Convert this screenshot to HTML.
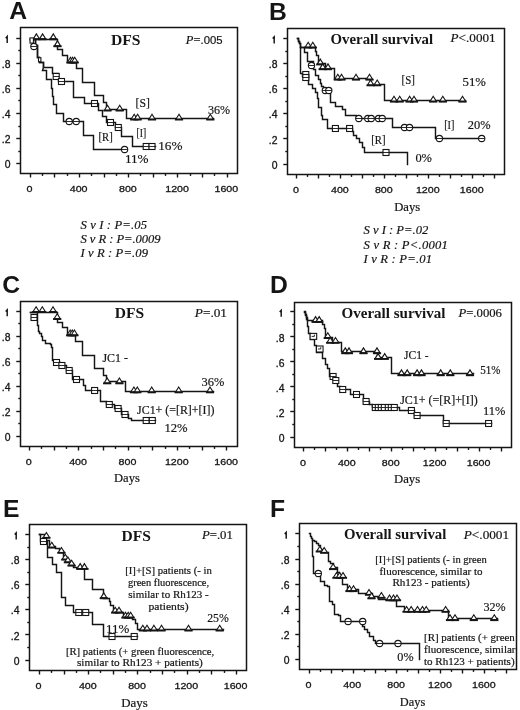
<!DOCTYPE html>
<html><head><meta charset="utf-8"><title>Figure</title>
<style>html,body{margin:0;padding:0;background:#fff;overflow:hidden;}svg{display:block;will-change:transform;}</style>
</head><body>
<svg width="520" height="710" viewBox="0 0 520 710">
<rect width="520" height="710" fill="#fff"/>
<text x="9.2" y="19.2" font-family='"Liberation Sans", sans-serif' font-size="24.7" font-weight="bold" fill="#151515" >A</text>
<text x="269" y="19.6" font-family='"Liberation Sans", sans-serif' font-size="24.7" font-weight="bold" fill="#151515" >B</text>
<text x="2.3" y="292.5" font-family='"Liberation Sans", sans-serif' font-size="24.7" font-weight="bold" fill="#151515" >C</text>
<text x="270" y="293.1" font-family='"Liberation Sans", sans-serif' font-size="24.7" font-weight="bold" fill="#151515" >D</text>
<text x="3.1" y="517.2" font-family='"Liberation Sans", sans-serif' font-size="24.7" font-weight="bold" fill="#151515" >E</text>
<text x="270.1" y="517.2" font-family='"Liberation Sans", sans-serif' font-size="24.7" font-weight="bold" fill="#151515" >F</text>
<rect x="20.5" y="27.5" width="217" height="146" fill="none" stroke="#151515" stroke-width="1.5"/>
<path d="M16.3,38.5 L20.5,38.5" stroke="#151515" stroke-width="1.4"/>
<path d="M18.3,50.5 L20.5,50.5" stroke="#151515" stroke-width="1.4"/>
<path d="M16.3,63.5 L20.5,63.5" stroke="#151515" stroke-width="1.4"/>
<path d="M18.3,75.5 L20.5,75.5" stroke="#151515" stroke-width="1.4"/>
<path d="M16.3,88.5 L20.5,88.5" stroke="#151515" stroke-width="1.4"/>
<path d="M18.3,100.5 L20.5,100.5" stroke="#151515" stroke-width="1.4"/>
<path d="M16.3,113.5 L20.5,113.5" stroke="#151515" stroke-width="1.4"/>
<path d="M18.3,126.5 L20.5,126.5" stroke="#151515" stroke-width="1.4"/>
<path d="M16.3,138.5 L20.5,138.5" stroke="#151515" stroke-width="1.4"/>
<path d="M18.3,151.5 L20.5,151.5" stroke="#151515" stroke-width="1.4"/>
<path d="M16.3,163.5 L20.5,163.5" stroke="#151515" stroke-width="1.4"/>
<path d="M5.7,38.2 L7.2,36.5 L7.2,43" fill="none" stroke="#151515" stroke-width="1.45"/>
<text x="10.5" y="67.84" font-family='"Liberation Sans", sans-serif' font-size="10.4" text-anchor="end" stroke="#151515" stroke-width="0.3" fill="#151515" >.8</text>
<text x="10.5" y="92.98" font-family='"Liberation Sans", sans-serif' font-size="10.4" text-anchor="end" stroke="#151515" stroke-width="0.3" fill="#151515" >.6</text>
<text x="10.5" y="118.12" font-family='"Liberation Sans", sans-serif' font-size="10.4" text-anchor="end" stroke="#151515" stroke-width="0.3" fill="#151515" >.4</text>
<text x="10.5" y="143.26" font-family='"Liberation Sans", sans-serif' font-size="10.4" text-anchor="end" stroke="#151515" stroke-width="0.3" fill="#151515" >.2</text>
<text x="10.5" y="168.4" font-family='"Liberation Sans", sans-serif' font-size="10.4" text-anchor="end" stroke="#151515" stroke-width="0.3" fill="#151515" >0</text>
<path d="M30.5,173.5 L30.5,177.5" stroke="#151515" stroke-width="1.4"/>
<path d="M42.5,173.5 L42.5,175.9" stroke="#151515" stroke-width="1.4"/>
<path d="M54.5,173.5 L54.5,177.5" stroke="#151515" stroke-width="1.4"/>
<path d="M67.5,173.5 L67.5,175.9" stroke="#151515" stroke-width="1.4"/>
<path d="M79.5,173.5 L79.5,177.5" stroke="#151515" stroke-width="1.4"/>
<path d="M91.5,173.5 L91.5,175.9" stroke="#151515" stroke-width="1.4"/>
<path d="M104.5,173.5 L104.5,177.5" stroke="#151515" stroke-width="1.4"/>
<path d="M116.5,173.5 L116.5,175.9" stroke="#151515" stroke-width="1.4"/>
<path d="M128.5,173.5 L128.5,177.5" stroke="#151515" stroke-width="1.4"/>
<path d="M140.5,173.5 L140.5,175.9" stroke="#151515" stroke-width="1.4"/>
<path d="M153.5,173.5 L153.5,177.5" stroke="#151515" stroke-width="1.4"/>
<path d="M165.5,173.5 L165.5,175.9" stroke="#151515" stroke-width="1.4"/>
<path d="M177.5,173.5 L177.5,177.5" stroke="#151515" stroke-width="1.4"/>
<path d="M190.5,173.5 L190.5,175.9" stroke="#151515" stroke-width="1.4"/>
<path d="M202.5,173.5 L202.5,177.5" stroke="#151515" stroke-width="1.4"/>
<path d="M214.5,173.5 L214.5,175.9" stroke="#151515" stroke-width="1.4"/>
<path d="M227.5,173.5 L227.5,177.5" stroke="#151515" stroke-width="1.4"/>
<text x="29.4" y="191.7" font-family='"Liberation Sans", sans-serif' font-size="9.9" text-anchor="middle" textLength="6" lengthAdjust="spacingAndGlyphs" stroke="#151515" stroke-width="0.3" fill="#151515" >0</text>
<text x="78.64" y="191.7" font-family='"Liberation Sans", sans-serif' font-size="9.9" text-anchor="middle" textLength="17.8" lengthAdjust="spacingAndGlyphs" stroke="#151515" stroke-width="0.3" fill="#151515" >400</text>
<text x="127.88" y="191.7" font-family='"Liberation Sans", sans-serif' font-size="9.9" text-anchor="middle" textLength="17.8" lengthAdjust="spacingAndGlyphs" stroke="#151515" stroke-width="0.3" fill="#151515" >800</text>
<text x="177.12" y="191.7" font-family='"Liberation Sans", sans-serif' font-size="9.9" text-anchor="middle" textLength="23.7" lengthAdjust="spacingAndGlyphs" stroke="#151515" stroke-width="0.3" fill="#151515" >1200</text>
<text x="226.36" y="191.7" font-family='"Liberation Sans", sans-serif' font-size="9.9" text-anchor="middle" textLength="23.7" lengthAdjust="spacingAndGlyphs" stroke="#151515" stroke-width="0.3" fill="#151515" >1600</text>
<rect x="287.5" y="28.5" width="217" height="146" fill="none" stroke="#151515" stroke-width="1.5"/>
<path d="M283.3,38.5 L287.5,38.5" stroke="#151515" stroke-width="1.4"/>
<path d="M285.3,51.5 L287.5,51.5" stroke="#151515" stroke-width="1.4"/>
<path d="M283.3,63.5 L287.5,63.5" stroke="#151515" stroke-width="1.4"/>
<path d="M285.3,76.5 L287.5,76.5" stroke="#151515" stroke-width="1.4"/>
<path d="M283.3,88.5 L287.5,88.5" stroke="#151515" stroke-width="1.4"/>
<path d="M285.3,101.5 L287.5,101.5" stroke="#151515" stroke-width="1.4"/>
<path d="M283.3,113.5 L287.5,113.5" stroke="#151515" stroke-width="1.4"/>
<path d="M285.3,126.5 L287.5,126.5" stroke="#151515" stroke-width="1.4"/>
<path d="M283.3,138.5 L287.5,138.5" stroke="#151515" stroke-width="1.4"/>
<path d="M285.3,151.5 L287.5,151.5" stroke="#151515" stroke-width="1.4"/>
<path d="M283.3,164.5 L287.5,164.5" stroke="#151515" stroke-width="1.4"/>
<path d="M272.7,38.6 L274.2,36.9 L274.2,43.4" fill="none" stroke="#151515" stroke-width="1.45"/>
<text x="277.5" y="68.22" font-family='"Liberation Sans", sans-serif' font-size="10.4" text-anchor="end" stroke="#151515" stroke-width="0.3" fill="#151515" >.8</text>
<text x="277.5" y="93.34" font-family='"Liberation Sans", sans-serif' font-size="10.4" text-anchor="end" stroke="#151515" stroke-width="0.3" fill="#151515" >.6</text>
<text x="277.5" y="118.46" font-family='"Liberation Sans", sans-serif' font-size="10.4" text-anchor="end" stroke="#151515" stroke-width="0.3" fill="#151515" >.4</text>
<text x="277.5" y="143.58" font-family='"Liberation Sans", sans-serif' font-size="10.4" text-anchor="end" stroke="#151515" stroke-width="0.3" fill="#151515" >.2</text>
<text x="277.5" y="168.7" font-family='"Liberation Sans", sans-serif' font-size="10.4" text-anchor="end" stroke="#151515" stroke-width="0.3" fill="#151515" >0</text>
<path d="M296.5,174.5 L296.5,178.5" stroke="#151515" stroke-width="1.4"/>
<path d="M307.5,174.5 L307.5,176.9" stroke="#151515" stroke-width="1.4"/>
<path d="M318.5,174.5 L318.5,178.5" stroke="#151515" stroke-width="1.4"/>
<path d="M329.5,174.5 L329.5,176.9" stroke="#151515" stroke-width="1.4"/>
<path d="M340.5,174.5 L340.5,178.5" stroke="#151515" stroke-width="1.4"/>
<path d="M351.5,174.5 L351.5,176.9" stroke="#151515" stroke-width="1.4"/>
<path d="M362.5,174.5 L362.5,178.5" stroke="#151515" stroke-width="1.4"/>
<path d="M373.5,174.5 L373.5,176.9" stroke="#151515" stroke-width="1.4"/>
<path d="M384.5,174.5 L384.5,178.5" stroke="#151515" stroke-width="1.4"/>
<path d="M395.5,174.5 L395.5,176.9" stroke="#151515" stroke-width="1.4"/>
<path d="M406.5,174.5 L406.5,178.5" stroke="#151515" stroke-width="1.4"/>
<path d="M417.5,174.5 L417.5,176.9" stroke="#151515" stroke-width="1.4"/>
<path d="M428.5,174.5 L428.5,178.5" stroke="#151515" stroke-width="1.4"/>
<path d="M439.5,174.5 L439.5,176.9" stroke="#151515" stroke-width="1.4"/>
<path d="M450.5,174.5 L450.5,178.5" stroke="#151515" stroke-width="1.4"/>
<path d="M461.5,174.5 L461.5,176.9" stroke="#151515" stroke-width="1.4"/>
<path d="M472.5,174.5 L472.5,178.5" stroke="#151515" stroke-width="1.4"/>
<path d="M483.5,174.5 L483.5,176.9" stroke="#151515" stroke-width="1.4"/>
<path d="M494.5,174.5 L494.5,178.5" stroke="#151515" stroke-width="1.4"/>
<text x="295.9" y="192.7" font-family='"Liberation Sans", sans-serif' font-size="9.9" text-anchor="middle" textLength="6" lengthAdjust="spacingAndGlyphs" stroke="#151515" stroke-width="0.3" fill="#151515" >0</text>
<text x="339.86" y="192.7" font-family='"Liberation Sans", sans-serif' font-size="9.9" text-anchor="middle" textLength="17.8" lengthAdjust="spacingAndGlyphs" stroke="#151515" stroke-width="0.3" fill="#151515" >400</text>
<text x="383.82" y="192.7" font-family='"Liberation Sans", sans-serif' font-size="9.9" text-anchor="middle" textLength="17.8" lengthAdjust="spacingAndGlyphs" stroke="#151515" stroke-width="0.3" fill="#151515" >800</text>
<text x="427.78" y="192.7" font-family='"Liberation Sans", sans-serif' font-size="9.9" text-anchor="middle" textLength="23.7" lengthAdjust="spacingAndGlyphs" stroke="#151515" stroke-width="0.3" fill="#151515" >1200</text>
<text x="471.74" y="192.7" font-family='"Liberation Sans", sans-serif' font-size="9.9" text-anchor="middle" textLength="23.7" lengthAdjust="spacingAndGlyphs" stroke="#151515" stroke-width="0.3" fill="#151515" >1600</text>
<rect x="20.5" y="301.5" width="217" height="145" fill="none" stroke="#151515" stroke-width="1.5"/>
<path d="M16.3,311.5 L20.5,311.5" stroke="#151515" stroke-width="1.4"/>
<path d="M18.3,323.5 L20.5,323.5" stroke="#151515" stroke-width="1.4"/>
<path d="M16.3,336.5 L20.5,336.5" stroke="#151515" stroke-width="1.4"/>
<path d="M18.3,348.5 L20.5,348.5" stroke="#151515" stroke-width="1.4"/>
<path d="M16.3,361.5 L20.5,361.5" stroke="#151515" stroke-width="1.4"/>
<path d="M18.3,373.5 L20.5,373.5" stroke="#151515" stroke-width="1.4"/>
<path d="M16.3,386.5 L20.5,386.5" stroke="#151515" stroke-width="1.4"/>
<path d="M18.3,398.5 L20.5,398.5" stroke="#151515" stroke-width="1.4"/>
<path d="M16.3,411.5 L20.5,411.5" stroke="#151515" stroke-width="1.4"/>
<path d="M18.3,423.5 L20.5,423.5" stroke="#151515" stroke-width="1.4"/>
<path d="M16.3,436.5 L20.5,436.5" stroke="#151515" stroke-width="1.4"/>
<path d="M5.7,311.5 L7.2,309.8 L7.2,316.3" fill="none" stroke="#151515" stroke-width="1.45"/>
<text x="10.5" y="341.02" font-family='"Liberation Sans", sans-serif' font-size="10.4" text-anchor="end" stroke="#151515" stroke-width="0.3" fill="#151515" >.8</text>
<text x="10.5" y="366.04" font-family='"Liberation Sans", sans-serif' font-size="10.4" text-anchor="end" stroke="#151515" stroke-width="0.3" fill="#151515" >.6</text>
<text x="10.5" y="391.06" font-family='"Liberation Sans", sans-serif' font-size="10.4" text-anchor="end" stroke="#151515" stroke-width="0.3" fill="#151515" >.4</text>
<text x="10.5" y="416.08" font-family='"Liberation Sans", sans-serif' font-size="10.4" text-anchor="end" stroke="#151515" stroke-width="0.3" fill="#151515" >.2</text>
<text x="10.5" y="441.1" font-family='"Liberation Sans", sans-serif' font-size="10.4" text-anchor="end" stroke="#151515" stroke-width="0.3" fill="#151515" >0</text>
<path d="M29.5,446.5 L29.5,450.5" stroke="#151515" stroke-width="1.4"/>
<path d="M41.5,446.5 L41.5,448.9" stroke="#151515" stroke-width="1.4"/>
<path d="M54.5,446.5 L54.5,450.5" stroke="#151515" stroke-width="1.4"/>
<path d="M66.5,446.5 L66.5,448.9" stroke="#151515" stroke-width="1.4"/>
<path d="M78.5,446.5 L78.5,450.5" stroke="#151515" stroke-width="1.4"/>
<path d="M91.5,446.5 L91.5,448.9" stroke="#151515" stroke-width="1.4"/>
<path d="M103.5,446.5 L103.5,450.5" stroke="#151515" stroke-width="1.4"/>
<path d="M115.5,446.5 L115.5,448.9" stroke="#151515" stroke-width="1.4"/>
<path d="M128.5,446.5 L128.5,450.5" stroke="#151515" stroke-width="1.4"/>
<path d="M140.5,446.5 L140.5,448.9" stroke="#151515" stroke-width="1.4"/>
<path d="M152.5,446.5 L152.5,450.5" stroke="#151515" stroke-width="1.4"/>
<path d="M165.5,446.5 L165.5,448.9" stroke="#151515" stroke-width="1.4"/>
<path d="M177.5,446.5 L177.5,450.5" stroke="#151515" stroke-width="1.4"/>
<path d="M189.5,446.5 L189.5,448.9" stroke="#151515" stroke-width="1.4"/>
<path d="M202.5,446.5 L202.5,450.5" stroke="#151515" stroke-width="1.4"/>
<path d="M214.5,446.5 L214.5,448.9" stroke="#151515" stroke-width="1.4"/>
<path d="M226.5,446.5 L226.5,450.5" stroke="#151515" stroke-width="1.4"/>
<text x="28.7" y="464.7" font-family='"Liberation Sans", sans-serif' font-size="9.9" text-anchor="middle" textLength="6" lengthAdjust="spacingAndGlyphs" stroke="#151515" stroke-width="0.3" fill="#151515" >0</text>
<text x="78.06" y="464.7" font-family='"Liberation Sans", sans-serif' font-size="9.9" text-anchor="middle" textLength="17.8" lengthAdjust="spacingAndGlyphs" stroke="#151515" stroke-width="0.3" fill="#151515" >400</text>
<text x="127.42" y="464.7" font-family='"Liberation Sans", sans-serif' font-size="9.9" text-anchor="middle" textLength="17.8" lengthAdjust="spacingAndGlyphs" stroke="#151515" stroke-width="0.3" fill="#151515" >800</text>
<text x="176.78" y="464.7" font-family='"Liberation Sans", sans-serif' font-size="9.9" text-anchor="middle" textLength="23.7" lengthAdjust="spacingAndGlyphs" stroke="#151515" stroke-width="0.3" fill="#151515" >1200</text>
<text x="226.14" y="464.7" font-family='"Liberation Sans", sans-serif' font-size="9.9" text-anchor="middle" textLength="23.7" lengthAdjust="spacingAndGlyphs" stroke="#151515" stroke-width="0.3" fill="#151515" >1600</text>
<rect x="294.5" y="302.5" width="217" height="145" fill="none" stroke="#151515" stroke-width="1.5"/>
<path d="M290.3,311.5 L294.5,311.5" stroke="#151515" stroke-width="1.4"/>
<path d="M292.3,324.5 L294.5,324.5" stroke="#151515" stroke-width="1.4"/>
<path d="M290.3,336.5 L294.5,336.5" stroke="#151515" stroke-width="1.4"/>
<path d="M292.3,349.5 L294.5,349.5" stroke="#151515" stroke-width="1.4"/>
<path d="M290.3,361.5 L294.5,361.5" stroke="#151515" stroke-width="1.4"/>
<path d="M292.3,374.5 L294.5,374.5" stroke="#151515" stroke-width="1.4"/>
<path d="M290.3,386.5 L294.5,386.5" stroke="#151515" stroke-width="1.4"/>
<path d="M292.3,399.5 L294.5,399.5" stroke="#151515" stroke-width="1.4"/>
<path d="M290.3,411.5 L294.5,411.5" stroke="#151515" stroke-width="1.4"/>
<path d="M292.3,424.5 L294.5,424.5" stroke="#151515" stroke-width="1.4"/>
<path d="M290.3,437.5 L294.5,437.5" stroke="#151515" stroke-width="1.4"/>
<path d="M279.7,312 L281.2,310.3 L281.2,316.8" fill="none" stroke="#151515" stroke-width="1.45"/>
<text x="284.5" y="341.52" font-family='"Liberation Sans", sans-serif' font-size="10.4" text-anchor="end" stroke="#151515" stroke-width="0.3" fill="#151515" >.8</text>
<text x="284.5" y="366.54" font-family='"Liberation Sans", sans-serif' font-size="10.4" text-anchor="end" stroke="#151515" stroke-width="0.3" fill="#151515" >.6</text>
<text x="284.5" y="391.56" font-family='"Liberation Sans", sans-serif' font-size="10.4" text-anchor="end" stroke="#151515" stroke-width="0.3" fill="#151515" >.4</text>
<text x="284.5" y="416.58" font-family='"Liberation Sans", sans-serif' font-size="10.4" text-anchor="end" stroke="#151515" stroke-width="0.3" fill="#151515" >.2</text>
<text x="284.5" y="441.6" font-family='"Liberation Sans", sans-serif' font-size="10.4" text-anchor="end" stroke="#151515" stroke-width="0.3" fill="#151515" >0</text>
<path d="M303.5,447.5 L303.5,451.5" stroke="#151515" stroke-width="1.4"/>
<path d="M314.5,447.5 L314.5,449.9" stroke="#151515" stroke-width="1.4"/>
<path d="M325.5,447.5 L325.5,451.5" stroke="#151515" stroke-width="1.4"/>
<path d="M336.5,447.5 L336.5,449.9" stroke="#151515" stroke-width="1.4"/>
<path d="M347.5,447.5 L347.5,451.5" stroke="#151515" stroke-width="1.4"/>
<path d="M358.5,447.5 L358.5,449.9" stroke="#151515" stroke-width="1.4"/>
<path d="M369.5,447.5 L369.5,451.5" stroke="#151515" stroke-width="1.4"/>
<path d="M380.5,447.5 L380.5,449.9" stroke="#151515" stroke-width="1.4"/>
<path d="M391.5,447.5 L391.5,451.5" stroke="#151515" stroke-width="1.4"/>
<path d="M402.5,447.5 L402.5,449.9" stroke="#151515" stroke-width="1.4"/>
<path d="M413.5,447.5 L413.5,451.5" stroke="#151515" stroke-width="1.4"/>
<path d="M424.5,447.5 L424.5,449.9" stroke="#151515" stroke-width="1.4"/>
<path d="M435.5,447.5 L435.5,451.5" stroke="#151515" stroke-width="1.4"/>
<path d="M446.5,447.5 L446.5,449.9" stroke="#151515" stroke-width="1.4"/>
<path d="M457.5,447.5 L457.5,451.5" stroke="#151515" stroke-width="1.4"/>
<path d="M468.5,447.5 L468.5,449.9" stroke="#151515" stroke-width="1.4"/>
<path d="M479.5,447.5 L479.5,451.5" stroke="#151515" stroke-width="1.4"/>
<path d="M490.5,447.5 L490.5,449.9" stroke="#151515" stroke-width="1.4"/>
<path d="M501.5,447.5 L501.5,451.5" stroke="#151515" stroke-width="1.4"/>
<text x="302.9" y="465.7" font-family='"Liberation Sans", sans-serif' font-size="9.9" text-anchor="middle" textLength="6" lengthAdjust="spacingAndGlyphs" stroke="#151515" stroke-width="0.3" fill="#151515" >0</text>
<text x="346.82" y="465.7" font-family='"Liberation Sans", sans-serif' font-size="9.9" text-anchor="middle" textLength="17.8" lengthAdjust="spacingAndGlyphs" stroke="#151515" stroke-width="0.3" fill="#151515" >400</text>
<text x="390.74" y="465.7" font-family='"Liberation Sans", sans-serif' font-size="9.9" text-anchor="middle" textLength="17.8" lengthAdjust="spacingAndGlyphs" stroke="#151515" stroke-width="0.3" fill="#151515" >800</text>
<text x="434.66" y="465.7" font-family='"Liberation Sans", sans-serif' font-size="9.9" text-anchor="middle" textLength="23.7" lengthAdjust="spacingAndGlyphs" stroke="#151515" stroke-width="0.3" fill="#151515" >1200</text>
<text x="478.58" y="465.7" font-family='"Liberation Sans", sans-serif' font-size="9.9" text-anchor="middle" textLength="23.7" lengthAdjust="spacingAndGlyphs" stroke="#151515" stroke-width="0.3" fill="#151515" >1600</text>
<rect x="29.5" y="524.5" width="217" height="146" fill="none" stroke="#151515" stroke-width="1.5"/>
<path d="M25.3,534.5 L29.5,534.5" stroke="#151515" stroke-width="1.4"/>
<path d="M27.3,547.5 L29.5,547.5" stroke="#151515" stroke-width="1.4"/>
<path d="M25.3,559.5 L29.5,559.5" stroke="#151515" stroke-width="1.4"/>
<path d="M27.3,572.5 L29.5,572.5" stroke="#151515" stroke-width="1.4"/>
<path d="M25.3,584.5 L29.5,584.5" stroke="#151515" stroke-width="1.4"/>
<path d="M27.3,597.5 L29.5,597.5" stroke="#151515" stroke-width="1.4"/>
<path d="M25.3,609.5 L29.5,609.5" stroke="#151515" stroke-width="1.4"/>
<path d="M27.3,622.5 L29.5,622.5" stroke="#151515" stroke-width="1.4"/>
<path d="M25.3,634.5 L29.5,634.5" stroke="#151515" stroke-width="1.4"/>
<path d="M27.3,647.5 L29.5,647.5" stroke="#151515" stroke-width="1.4"/>
<path d="M25.3,660.5 L29.5,660.5" stroke="#151515" stroke-width="1.4"/>
<path d="M14.7,534.6 L16.2,532.9 L16.2,539.4" fill="none" stroke="#151515" stroke-width="1.45"/>
<text x="19.5" y="564.2" font-family='"Liberation Sans", sans-serif' font-size="10.4" text-anchor="end" stroke="#151515" stroke-width="0.3" fill="#151515" >.8</text>
<text x="19.5" y="589.3" font-family='"Liberation Sans", sans-serif' font-size="10.4" text-anchor="end" stroke="#151515" stroke-width="0.3" fill="#151515" >.6</text>
<text x="19.5" y="614.4" font-family='"Liberation Sans", sans-serif' font-size="10.4" text-anchor="end" stroke="#151515" stroke-width="0.3" fill="#151515" >.4</text>
<text x="19.5" y="639.5" font-family='"Liberation Sans", sans-serif' font-size="10.4" text-anchor="end" stroke="#151515" stroke-width="0.3" fill="#151515" >.2</text>
<text x="19.5" y="664.6" font-family='"Liberation Sans", sans-serif' font-size="10.4" text-anchor="end" stroke="#151515" stroke-width="0.3" fill="#151515" >0</text>
<path d="M39.5,670.5 L39.5,674.5" stroke="#151515" stroke-width="1.4"/>
<path d="M51.5,670.5 L51.5,672.9" stroke="#151515" stroke-width="1.4"/>
<path d="M64.5,670.5 L64.5,674.5" stroke="#151515" stroke-width="1.4"/>
<path d="M76.5,670.5 L76.5,672.9" stroke="#151515" stroke-width="1.4"/>
<path d="M88.5,670.5 L88.5,674.5" stroke="#151515" stroke-width="1.4"/>
<path d="M100.5,670.5 L100.5,672.9" stroke="#151515" stroke-width="1.4"/>
<path d="M113.5,670.5 L113.5,674.5" stroke="#151515" stroke-width="1.4"/>
<path d="M125.5,670.5 L125.5,672.9" stroke="#151515" stroke-width="1.4"/>
<path d="M137.5,670.5 L137.5,674.5" stroke="#151515" stroke-width="1.4"/>
<path d="M150.5,670.5 L150.5,672.9" stroke="#151515" stroke-width="1.4"/>
<path d="M162.5,670.5 L162.5,674.5" stroke="#151515" stroke-width="1.4"/>
<path d="M174.5,670.5 L174.5,672.9" stroke="#151515" stroke-width="1.4"/>
<path d="M187.5,670.5 L187.5,674.5" stroke="#151515" stroke-width="1.4"/>
<path d="M199.5,670.5 L199.5,672.9" stroke="#151515" stroke-width="1.4"/>
<path d="M211.5,670.5 L211.5,674.5" stroke="#151515" stroke-width="1.4"/>
<path d="M224.5,670.5 L224.5,672.9" stroke="#151515" stroke-width="1.4"/>
<path d="M236.5,670.5 L236.5,674.5" stroke="#151515" stroke-width="1.4"/>
<text x="38.6" y="688.7" font-family='"Liberation Sans", sans-serif' font-size="9.9" text-anchor="middle" textLength="6" lengthAdjust="spacingAndGlyphs" stroke="#151515" stroke-width="0.3" fill="#151515" >0</text>
<text x="87.84" y="688.7" font-family='"Liberation Sans", sans-serif' font-size="9.9" text-anchor="middle" textLength="17.8" lengthAdjust="spacingAndGlyphs" stroke="#151515" stroke-width="0.3" fill="#151515" >400</text>
<text x="137.08" y="688.7" font-family='"Liberation Sans", sans-serif' font-size="9.9" text-anchor="middle" textLength="17.8" lengthAdjust="spacingAndGlyphs" stroke="#151515" stroke-width="0.3" fill="#151515" >800</text>
<text x="186.32" y="688.7" font-family='"Liberation Sans", sans-serif' font-size="9.9" text-anchor="middle" textLength="23.7" lengthAdjust="spacingAndGlyphs" stroke="#151515" stroke-width="0.3" fill="#151515" >1200</text>
<text x="235.56" y="688.7" font-family='"Liberation Sans", sans-serif' font-size="9.9" text-anchor="middle" textLength="23.7" lengthAdjust="spacingAndGlyphs" stroke="#151515" stroke-width="0.3" fill="#151515" >1600</text>
<rect x="299.5" y="523.5" width="217" height="146" fill="none" stroke="#151515" stroke-width="1.5"/>
<path d="M295.3,533.5 L299.5,533.5" stroke="#151515" stroke-width="1.4"/>
<path d="M297.3,546.5 L299.5,546.5" stroke="#151515" stroke-width="1.4"/>
<path d="M295.3,559.5 L299.5,559.5" stroke="#151515" stroke-width="1.4"/>
<path d="M297.3,571.5 L299.5,571.5" stroke="#151515" stroke-width="1.4"/>
<path d="M295.3,584.5 L299.5,584.5" stroke="#151515" stroke-width="1.4"/>
<path d="M297.3,596.5 L299.5,596.5" stroke="#151515" stroke-width="1.4"/>
<path d="M295.3,609.5 L299.5,609.5" stroke="#151515" stroke-width="1.4"/>
<path d="M297.3,621.5 L299.5,621.5" stroke="#151515" stroke-width="1.4"/>
<path d="M295.3,634.5 L299.5,634.5" stroke="#151515" stroke-width="1.4"/>
<path d="M297.3,646.5 L299.5,646.5" stroke="#151515" stroke-width="1.4"/>
<path d="M295.3,659.5 L299.5,659.5" stroke="#151515" stroke-width="1.4"/>
<path d="M284.7,534 L286.2,532.3 L286.2,538.8" fill="none" stroke="#151515" stroke-width="1.45"/>
<text x="289.5" y="563.62" font-family='"Liberation Sans", sans-serif' font-size="10.4" text-anchor="end" stroke="#151515" stroke-width="0.3" fill="#151515" >.8</text>
<text x="289.5" y="588.74" font-family='"Liberation Sans", sans-serif' font-size="10.4" text-anchor="end" stroke="#151515" stroke-width="0.3" fill="#151515" >.6</text>
<text x="289.5" y="613.86" font-family='"Liberation Sans", sans-serif' font-size="10.4" text-anchor="end" stroke="#151515" stroke-width="0.3" fill="#151515" >.4</text>
<text x="289.5" y="638.98" font-family='"Liberation Sans", sans-serif' font-size="10.4" text-anchor="end" stroke="#151515" stroke-width="0.3" fill="#151515" >.2</text>
<text x="289.5" y="664.1" font-family='"Liberation Sans", sans-serif' font-size="10.4" text-anchor="end" stroke="#151515" stroke-width="0.3" fill="#151515" >0</text>
<path d="M309.5,669.5 L309.5,673.5" stroke="#151515" stroke-width="1.4"/>
<path d="M320.5,669.5 L320.5,671.9" stroke="#151515" stroke-width="1.4"/>
<path d="M331.5,669.5 L331.5,673.5" stroke="#151515" stroke-width="1.4"/>
<path d="M342.5,669.5 L342.5,671.9" stroke="#151515" stroke-width="1.4"/>
<path d="M353.5,669.5 L353.5,673.5" stroke="#151515" stroke-width="1.4"/>
<path d="M364.5,669.5 L364.5,671.9" stroke="#151515" stroke-width="1.4"/>
<path d="M375.5,669.5 L375.5,673.5" stroke="#151515" stroke-width="1.4"/>
<path d="M385.5,669.5 L385.5,671.9" stroke="#151515" stroke-width="1.4"/>
<path d="M396.5,669.5 L396.5,673.5" stroke="#151515" stroke-width="1.4"/>
<path d="M407.5,669.5 L407.5,671.9" stroke="#151515" stroke-width="1.4"/>
<path d="M418.5,669.5 L418.5,673.5" stroke="#151515" stroke-width="1.4"/>
<path d="M429.5,669.5 L429.5,671.9" stroke="#151515" stroke-width="1.4"/>
<path d="M440.5,669.5 L440.5,673.5" stroke="#151515" stroke-width="1.4"/>
<path d="M451.5,669.5 L451.5,671.9" stroke="#151515" stroke-width="1.4"/>
<path d="M462.5,669.5 L462.5,673.5" stroke="#151515" stroke-width="1.4"/>
<path d="M473.5,669.5 L473.5,671.9" stroke="#151515" stroke-width="1.4"/>
<path d="M484.5,669.5 L484.5,673.5" stroke="#151515" stroke-width="1.4"/>
<path d="M495.5,669.5 L495.5,671.9" stroke="#151515" stroke-width="1.4"/>
<path d="M506.5,669.5 L506.5,673.5" stroke="#151515" stroke-width="1.4"/>
<text x="308.45" y="687.7" font-family='"Liberation Sans", sans-serif' font-size="9.9" text-anchor="middle" textLength="6" lengthAdjust="spacingAndGlyphs" stroke="#151515" stroke-width="0.3" fill="#151515" >0</text>
<text x="352.29" y="687.7" font-family='"Liberation Sans", sans-serif' font-size="9.9" text-anchor="middle" textLength="17.8" lengthAdjust="spacingAndGlyphs" stroke="#151515" stroke-width="0.3" fill="#151515" >400</text>
<text x="396.13" y="687.7" font-family='"Liberation Sans", sans-serif' font-size="9.9" text-anchor="middle" textLength="17.8" lengthAdjust="spacingAndGlyphs" stroke="#151515" stroke-width="0.3" fill="#151515" >800</text>
<text x="439.97" y="687.7" font-family='"Liberation Sans", sans-serif' font-size="9.9" text-anchor="middle" textLength="23.7" lengthAdjust="spacingAndGlyphs" stroke="#151515" stroke-width="0.3" fill="#151515" >1200</text>
<text x="483.81" y="687.7" font-family='"Liberation Sans", sans-serif' font-size="9.9" text-anchor="middle" textLength="23.7" lengthAdjust="spacingAndGlyphs" stroke="#151515" stroke-width="0.3" fill="#151515" >1600</text>
<path d="M30.5,39.5 L57.5,39.5 L57.5,49.5 L62.5,49.5 L62.5,55.5 L67.5,55.5 L67.5,62.5 L76.5,62.5 L76.5,68.5 L82.5,68.5 L82.5,75.5 L82.5,75.5 L82.5,82.5 L94.5,82.5 L94.5,95.5 L103.5,95.5 L103.5,102.5 L106.5,102.5 L106.5,109.5 L126.5,109.5 L126.5,118.5 L213.5,118.5" fill="none" stroke="#151515" stroke-width="1.45" stroke-linejoin="miter" stroke-linecap="square"/>
<path d="M30.5,39.5 L35.5,39.5 L35.5,45.5 L37.5,45.5 L37.5,57.5 L39.5,57.5 L39.5,62.5 L43.5,62.5 L43.5,67.5 L52.5,67.5 L52.5,73.5 L58.5,73.5 L58.5,81.5 L73.5,81.5 L73.5,97.5 L84.5,97.5 L84.5,103.5 L98.5,103.5 L98.5,110.5 L102.5,110.5 L102.5,116.5 L106.5,116.5 L106.5,122.5 L115.5,122.5 L115.5,127.5 L121.5,127.5 L121.5,136.5 L132.5,136.5 L132.5,146.5 L155.5,146.5" fill="none" stroke="#151515" stroke-width="1.45" stroke-linejoin="miter" stroke-linecap="square"/>
<path d="M30.5,39.5 L35.5,39.5 L35.5,45.5 L37.5,45.5 L37.5,57.5 L39.5,57.5 L39.5,62.5 L43.5,62.5 L43.5,67.5 L42.5,70.5 L46.5,70.5 L46.5,79.5 L51.5,79.5 L51.5,88.5 L52.5,88.5 L52.5,96.5 L53.5,96.5 L53.5,104.5 L56.5,104.5 L56.5,113.5 L63.5,113.5 L63.5,121.5 L83.5,121.5 L83.5,135.5 L93.5,135.5 L93.5,149.5 L124.5,149.5" fill="none" stroke="#151515" stroke-width="1.45" stroke-linejoin="miter" stroke-linecap="square"/>
<path d="M33.3,38.9 L36.4,33.9 L39.5,38.9 Z" fill="#fff" stroke="#151515" stroke-width="1.1"/>
<rect x="32.3" y="38.3" width="8.2" height="1.9" fill="#151515"/>
<path d="M39.5,38.9 L42.6,33.9 L45.7,38.9 Z" fill="#fff" stroke="#151515" stroke-width="1.1"/>
<rect x="38.5" y="38.3" width="8.2" height="1.9" fill="#151515"/>
<path d="M50.2,38.9 L53.3,33.9 L56.4,38.9 Z" fill="#fff" stroke="#151515" stroke-width="1.1"/>
<rect x="49.2" y="38.3" width="8.2" height="1.9" fill="#151515"/>
<path d="M54.4,45.9 L57.5,40.9 L60.6,45.9 Z" fill="#fff" stroke="#151515" stroke-width="1.1"/>
<rect x="53.4" y="45.3" width="8.2" height="1.9" fill="#151515"/>
<path d="M67.4,62.2 L70.5,57.2 L73.6,62.2 Z" fill="#fff" stroke="#151515" stroke-width="1.1"/>
<rect x="66.4" y="61.6" width="8.2" height="1.9" fill="#151515"/>
<path d="M69.5,62.2 L72.6,57.2 L75.7,62.2 Z" fill="#fff" stroke="#151515" stroke-width="1.1"/>
<rect x="68.5" y="61.6" width="8.2" height="1.9" fill="#151515"/>
<path d="M71.6,62.2 L74.7,57.2 L77.8,62.2 Z" fill="#fff" stroke="#151515" stroke-width="1.1"/>
<rect x="70.6" y="61.6" width="8.2" height="1.9" fill="#151515"/>
<path d="M104.4,110.2 L107.5,105.2 L110.6,110.2 Z" fill="#fff" stroke="#151515" stroke-width="1.1"/>
<rect x="103.4" y="109.6" width="8.2" height="1.9" fill="#151515"/>
<path d="M116.6,110.2 L119.7,105.2 L122.8,110.2 Z" fill="#fff" stroke="#151515" stroke-width="1.1"/>
<rect x="115.6" y="109.6" width="8.2" height="1.9" fill="#151515"/>
<path d="M131.1,119.2 L134.2,114.2 L137.3,119.2 Z" fill="#fff" stroke="#151515" stroke-width="1.1"/>
<rect x="130.1" y="118.6" width="8.2" height="1.9" fill="#151515"/>
<path d="M134.5,119.2 L137.6,114.2 L140.7,119.2 Z" fill="#fff" stroke="#151515" stroke-width="1.1"/>
<rect x="133.5" y="118.6" width="8.2" height="1.9" fill="#151515"/>
<path d="M148.9,119.2 L152,114.2 L155.1,119.2 Z" fill="#fff" stroke="#151515" stroke-width="1.1"/>
<rect x="147.9" y="118.6" width="8.2" height="1.9" fill="#151515"/>
<path d="M175.9,119.2 L179,114.2 L182.1,119.2 Z" fill="#fff" stroke="#151515" stroke-width="1.1"/>
<rect x="174.9" y="118.6" width="8.2" height="1.9" fill="#151515"/>
<path d="M207.2,119.2 L210.3,114.2 L213.4,119.2 Z" fill="#fff" stroke="#151515" stroke-width="1.1"/>
<rect x="206.2" y="118.6" width="8.2" height="1.9" fill="#151515"/>
<rect x="53.2" y="73.5" width="6" height="6" fill="#fff" stroke="#151515" stroke-width="1.1"/>
<path d="M53.2,76.5 L59.2,76.5" stroke="#151515" stroke-width="0.9"/>
<rect x="58.5" y="78.5" width="6" height="6" fill="#fff" stroke="#151515" stroke-width="1.1"/>
<path d="M58.5,81.5 L64.5,81.5" stroke="#151515" stroke-width="0.9"/>
<rect x="91.5" y="100.5" width="6" height="6" fill="#fff" stroke="#151515" stroke-width="1.1"/>
<path d="M91.5,103.5 L97.5,103.5" stroke="#151515" stroke-width="0.9"/>
<rect x="107.5" y="119.5" width="6" height="6" fill="#fff" stroke="#151515" stroke-width="1.1"/>
<path d="M107.5,122.5 L113.5,122.5" stroke="#151515" stroke-width="0.9"/>
<rect x="115.3" y="124.5" width="6" height="6" fill="#fff" stroke="#151515" stroke-width="1.1"/>
<path d="M115.3,127.5 L121.3,127.5" stroke="#151515" stroke-width="0.9"/>
<rect x="143.2" y="143.5" width="6" height="6" fill="#fff" stroke="#151515" stroke-width="1.1"/>
<path d="M143.2,146.5 L149.2,146.5" stroke="#151515" stroke-width="0.9"/>
<rect x="149" y="143.5" width="6" height="6" fill="#fff" stroke="#151515" stroke-width="1.1"/>
<path d="M149,146.5 L155,146.5" stroke="#151515" stroke-width="0.9"/>
<rect x="30" y="37.9" width="3.4" height="5.2" fill="#fff" stroke="#151515" stroke-width="1.1"/>
<rect x="38.5" y="57.7" width="2.4" height="4" fill="#fff" stroke="#151515" stroke-width="1.1"/>
<circle cx="33.9" cy="46.5" r="3.15" fill="#fff" stroke="#151515" stroke-width="1.1"/>
<path d="M30.75,46.5 L37.05,46.5" stroke="#151515" stroke-width="0.9"/>
<circle cx="69.2" cy="121.5" r="3.15" fill="#fff" stroke="#151515" stroke-width="1.1"/>
<path d="M66.05,121.5 L72.35,121.5" stroke="#151515" stroke-width="0.9"/>
<circle cx="76.2" cy="121.5" r="3.15" fill="#fff" stroke="#151515" stroke-width="1.1"/>
<path d="M73.05,121.5 L79.35,121.5" stroke="#151515" stroke-width="0.9"/>
<circle cx="124.6" cy="149.5" r="3.15" fill="#fff" stroke="#151515" stroke-width="1.1"/>
<path d="M121.45,149.5 L127.75,149.5" stroke="#151515" stroke-width="0.9"/>
<path d="M297.5,38.5 L298.5,38.5 L298.5,41.5 L299.5,41.5 L299.5,43.5 L300.5,43.5 L300.5,47.5 L315.5,47.5 L315.5,51.5 L316.5,51.5 L316.5,55.5 L318.5,55.5 L318.5,63.5 L325.5,63.5 L325.5,68.5 L334.5,68.5 L334.5,78.5 L370.5,78.5 L370.5,84.5 L384.5,84.5 L384.5,100.5 L465.5,100.5" fill="none" stroke="#151515" stroke-width="1.45" stroke-linejoin="miter" stroke-linecap="square"/>
<path d="M297.5,38.5 L298.5,38.5 L298.5,41.5 L299.5,41.5 L299.5,43.5 L300.5,43.5 L300.5,47.5 L304.5,47.5 L304.5,52.5 L307.5,52.5 L307.5,61.5 L313.5,61.5 L313.5,69.5 L315.5,69.5 L315.5,75.5 L318.5,75.5 L318.5,79.5 L320.5,79.5 L320.5,83.5 L321.5,83.5 L321.5,86.5 L323.5,86.5 L323.5,90.5 L330.5,90.5 L330.5,102.5 L335.5,102.5 L335.5,106.5 L342.5,106.5 L342.5,109.5 L345.5,109.5 L345.5,115.5 L356.5,115.5 L356.5,118.5 L392.5,118.5 L392.5,127.5 L435.5,127.5 L435.5,138.5 L481.5,138.5" fill="none" stroke="#151515" stroke-width="1.45" stroke-linejoin="miter" stroke-linecap="square"/>
<path d="M300.5,47.5 L300.5,47.5 L300.5,73.5 L302.5,73.5 L302.5,76.5 L308.5,76.5 L308.5,84.5 L312.5,84.5 L312.5,88.5 L315.5,88.5 L315.5,92.5 L317.5,92.5 L317.5,98.5 L318.5,98.5 L318.5,107.5 L321.5,107.5 L321.5,115.5 L322.5,115.5 L322.5,119.5 L327.5,119.5 L327.5,128.5 L352.5,128.5 L352.5,131.5 L353.5,131.5 L353.5,135.5 L356.5,135.5 L356.5,138.5 L359.5,138.5 L359.5,142.5 L362.5,142.5 L362.5,147.5 L364.5,147.5 L364.5,152.5 L407.5,152.5 L407.5,164.5" fill="none" stroke="#151515" stroke-width="1.45" stroke-linejoin="miter" stroke-linecap="square"/>
<path d="M305.1,47.2 L308.2,42.2 L311.3,47.2 Z" fill="#fff" stroke="#151515" stroke-width="1.1"/>
<rect x="304.1" y="46.6" width="8.2" height="1.9" fill="#151515"/>
<path d="M309.7,47.2 L312.8,42.2 L315.9,47.2 Z" fill="#fff" stroke="#151515" stroke-width="1.1"/>
<rect x="308.7" y="46.6" width="8.2" height="1.9" fill="#151515"/>
<path d="M317.2,64.1 L320.3,59.1 L323.4,64.1 Z" fill="#fff" stroke="#151515" stroke-width="1.1"/>
<rect x="316.2" y="63.5" width="8.2" height="1.9" fill="#151515"/>
<path d="M319.6,68.9 L322.7,63.9 L325.8,68.9 Z" fill="#fff" stroke="#151515" stroke-width="1.1"/>
<rect x="318.6" y="68.3" width="8.2" height="1.9" fill="#151515"/>
<path d="M324.9,68.9 L328,63.9 L331.1,68.9 Z" fill="#fff" stroke="#151515" stroke-width="1.1"/>
<rect x="323.9" y="68.3" width="8.2" height="1.9" fill="#151515"/>
<path d="M334.7,79.3 L337.8,74.3 L340.9,79.3 Z" fill="#fff" stroke="#151515" stroke-width="1.1"/>
<rect x="333.7" y="78.7" width="8.2" height="1.9" fill="#151515"/>
<path d="M338.4,79.3 L341.5,74.3 L344.6,79.3 Z" fill="#fff" stroke="#151515" stroke-width="1.1"/>
<rect x="337.4" y="78.7" width="8.2" height="1.9" fill="#151515"/>
<path d="M352.9,79.3 L356,74.3 L359.1,79.3 Z" fill="#fff" stroke="#151515" stroke-width="1.1"/>
<rect x="351.9" y="78.7" width="8.2" height="1.9" fill="#151515"/>
<path d="M366.4,79.3 L369.5,74.3 L372.6,79.3 Z" fill="#fff" stroke="#151515" stroke-width="1.1"/>
<rect x="365.4" y="78.7" width="8.2" height="1.9" fill="#151515"/>
<path d="M367.5,85 L370.6,80 L373.7,85 Z" fill="#fff" stroke="#151515" stroke-width="1.1"/>
<rect x="366.5" y="84.4" width="8.2" height="1.9" fill="#151515"/>
<path d="M374.1,85 L377.2,80 L380.3,85 Z" fill="#fff" stroke="#151515" stroke-width="1.1"/>
<rect x="373.1" y="84.4" width="8.2" height="1.9" fill="#151515"/>
<path d="M390.9,101.3 L394,96.3 L397.1,101.3 Z" fill="#fff" stroke="#151515" stroke-width="1.1"/>
<rect x="389.9" y="100.7" width="8.2" height="1.9" fill="#151515"/>
<path d="M396.6,101.3 L399.7,96.3 L402.8,101.3 Z" fill="#fff" stroke="#151515" stroke-width="1.1"/>
<rect x="395.6" y="100.7" width="8.2" height="1.9" fill="#151515"/>
<path d="M406.5,101.3 L409.6,96.3 L412.7,101.3 Z" fill="#fff" stroke="#151515" stroke-width="1.1"/>
<rect x="405.5" y="100.7" width="8.2" height="1.9" fill="#151515"/>
<path d="M410.9,101.3 L414,96.3 L417.1,101.3 Z" fill="#fff" stroke="#151515" stroke-width="1.1"/>
<rect x="409.9" y="100.7" width="8.2" height="1.9" fill="#151515"/>
<path d="M430.1,101.3 L433.2,96.3 L436.3,101.3 Z" fill="#fff" stroke="#151515" stroke-width="1.1"/>
<rect x="429.1" y="100.7" width="8.2" height="1.9" fill="#151515"/>
<path d="M439.7,101.3 L442.8,96.3 L445.9,101.3 Z" fill="#fff" stroke="#151515" stroke-width="1.1"/>
<rect x="438.7" y="100.7" width="8.2" height="1.9" fill="#151515"/>
<path d="M459.4,101.3 L462.5,96.3 L465.6,101.3 Z" fill="#fff" stroke="#151515" stroke-width="1.1"/>
<rect x="458.4" y="100.7" width="8.2" height="1.9" fill="#151515"/>
<circle cx="311.5" cy="65.5" r="3.15" fill="#fff" stroke="#151515" stroke-width="1.1"/>
<path d="M308.35,65.5 L314.65,65.5" stroke="#151515" stroke-width="0.9"/>
<circle cx="325.3" cy="90.5" r="3.15" fill="#fff" stroke="#151515" stroke-width="1.1"/>
<path d="M322.15,90.5 L328.45,90.5" stroke="#151515" stroke-width="0.9"/>
<circle cx="328.8" cy="90.5" r="3.15" fill="#fff" stroke="#151515" stroke-width="1.1"/>
<path d="M325.65,90.5 L331.95,90.5" stroke="#151515" stroke-width="0.9"/>
<circle cx="358.8" cy="118.5" r="3.15" fill="#fff" stroke="#151515" stroke-width="1.1"/>
<path d="M355.65,118.5 L361.95,118.5" stroke="#151515" stroke-width="0.9"/>
<circle cx="367.8" cy="118.5" r="3.15" fill="#fff" stroke="#151515" stroke-width="1.1"/>
<path d="M364.65,118.5 L370.95,118.5" stroke="#151515" stroke-width="0.9"/>
<circle cx="371.2" cy="118.5" r="3.15" fill="#fff" stroke="#151515" stroke-width="1.1"/>
<path d="M368.05,118.5 L374.35,118.5" stroke="#151515" stroke-width="0.9"/>
<circle cx="378.6" cy="118.5" r="3.15" fill="#fff" stroke="#151515" stroke-width="1.1"/>
<path d="M375.45,118.5 L381.75,118.5" stroke="#151515" stroke-width="0.9"/>
<circle cx="382.2" cy="118.5" r="3.15" fill="#fff" stroke="#151515" stroke-width="1.1"/>
<path d="M379.05,118.5 L385.35,118.5" stroke="#151515" stroke-width="0.9"/>
<circle cx="404.5" cy="127.5" r="3.15" fill="#fff" stroke="#151515" stroke-width="1.1"/>
<path d="M401.35,127.5 L407.65,127.5" stroke="#151515" stroke-width="0.9"/>
<circle cx="409.5" cy="127.5" r="3.15" fill="#fff" stroke="#151515" stroke-width="1.1"/>
<path d="M406.35,127.5 L412.65,127.5" stroke="#151515" stroke-width="0.9"/>
<circle cx="439.4" cy="138.5" r="3.15" fill="#fff" stroke="#151515" stroke-width="1.1"/>
<path d="M436.25,138.5 L442.55,138.5" stroke="#151515" stroke-width="0.9"/>
<circle cx="481.7" cy="138.5" r="3.15" fill="#fff" stroke="#151515" stroke-width="1.1"/>
<path d="M478.55,138.5 L484.85,138.5" stroke="#151515" stroke-width="0.9"/>
<rect x="302.8" y="71.5" width="6" height="6" fill="#fff" stroke="#151515" stroke-width="1.1"/>
<path d="M302.8,74.5 L308.8,74.5" stroke="#151515" stroke-width="0.9"/>
<rect x="302.8" y="74.5" width="6" height="6" fill="#fff" stroke="#151515" stroke-width="1.1"/>
<path d="M302.8,77.5 L308.8,77.5" stroke="#151515" stroke-width="0.9"/>
<rect x="332.4" y="125.5" width="6" height="6" fill="#fff" stroke="#151515" stroke-width="1.1"/>
<path d="M332.4,128.5 L338.4,128.5" stroke="#151515" stroke-width="0.9"/>
<rect x="346.6" y="125.5" width="6" height="6" fill="#fff" stroke="#151515" stroke-width="1.1"/>
<path d="M346.6,128.5 L352.6,128.5" stroke="#151515" stroke-width="0.9"/>
<rect x="383" y="149.5" width="6" height="6" fill="#fff" stroke="#151515" stroke-width="1.1"/>
<path d="M383,152.5 L389,152.5" stroke="#151515" stroke-width="0.9"/>
<path d="M30.5,312.5 L57.5,312.5 L57.5,322.5 L62.5,322.5 L62.5,327.5 L67.5,327.5 L67.5,335.5 L75.5,335.5 L75.5,341.5 L82.5,341.5 L82.5,347.5 L82.5,347.5 L82.5,355.5 L94.5,355.5 L94.5,368.5 L103.5,368.5 L103.5,375.5 L106.5,375.5 L106.5,381.5 L125.5,381.5 L125.5,391.5 L213.5,391.5" fill="none" stroke="#151515" stroke-width="1.45" stroke-linejoin="miter" stroke-linecap="square"/>
<path d="M30.5,312.5 L37.5,312.5 L37.5,325.5 L38.5,325.5 L38.5,331.5 L39.5,331.5 L39.5,333.5 L41.5,333.5 L41.5,336.5 L42.5,336.5 L42.5,340.5 L45.5,340.5 L45.5,343.5 L50.5,343.5 L50.5,344.5 L51.5,344.5 L51.5,347.5 L52.5,347.5 L52.5,360.5 L55.5,360.5 L55.5,362.5 L60.5,362.5 L60.5,365.5 L66.5,365.5 L66.5,370.5 L72.5,370.5 L72.5,379.5 L83.5,379.5 L83.5,385.5 L85.5,385.5 L85.5,390.5 L100.5,390.5 L100.5,401.5 L106.5,401.5 L106.5,404.5 L114.5,404.5 L114.5,408.5 L121.5,408.5 L121.5,414.5 L128.5,414.5 L128.5,418.5 L131.5,418.5 L131.5,420.5 L155.5,420.5" fill="none" stroke="#151515" stroke-width="1.45" stroke-linejoin="miter" stroke-linecap="square"/>
<path d="M33,311.7 L36.1,306.7 L39.2,311.7 Z" fill="#fff" stroke="#151515" stroke-width="1.1"/>
<rect x="32" y="311.1" width="8.2" height="1.9" fill="#151515"/>
<path d="M39.2,311.7 L42.3,306.7 L45.4,311.7 Z" fill="#fff" stroke="#151515" stroke-width="1.1"/>
<rect x="38.2" y="311.1" width="8.2" height="1.9" fill="#151515"/>
<path d="M49.9,311.7 L53,306.7 L56.1,311.7 Z" fill="#fff" stroke="#151515" stroke-width="1.1"/>
<rect x="48.9" y="311.1" width="8.2" height="1.9" fill="#151515"/>
<path d="M54.1,318.7 L57.2,313.7 L60.3,318.7 Z" fill="#fff" stroke="#151515" stroke-width="1.1"/>
<rect x="53.1" y="318.1" width="8.2" height="1.9" fill="#151515"/>
<path d="M67.1,335 L70.2,330 L73.3,335 Z" fill="#fff" stroke="#151515" stroke-width="1.1"/>
<rect x="66.1" y="334.4" width="8.2" height="1.9" fill="#151515"/>
<path d="M69.2,335 L72.3,330 L75.4,335 Z" fill="#fff" stroke="#151515" stroke-width="1.1"/>
<rect x="68.2" y="334.4" width="8.2" height="1.9" fill="#151515"/>
<path d="M71.3,335 L74.4,330 L77.5,335 Z" fill="#fff" stroke="#151515" stroke-width="1.1"/>
<rect x="70.3" y="334.4" width="8.2" height="1.9" fill="#151515"/>
<path d="M104.1,383 L107.2,378 L110.3,383 Z" fill="#fff" stroke="#151515" stroke-width="1.1"/>
<rect x="103.1" y="382.4" width="8.2" height="1.9" fill="#151515"/>
<path d="M116.3,383 L119.4,378 L122.5,383 Z" fill="#fff" stroke="#151515" stroke-width="1.1"/>
<rect x="115.3" y="382.4" width="8.2" height="1.9" fill="#151515"/>
<path d="M130.8,392 L133.9,387 L137,392 Z" fill="#fff" stroke="#151515" stroke-width="1.1"/>
<rect x="129.8" y="391.4" width="8.2" height="1.9" fill="#151515"/>
<path d="M134.2,392 L137.3,387 L140.4,392 Z" fill="#fff" stroke="#151515" stroke-width="1.1"/>
<rect x="133.2" y="391.4" width="8.2" height="1.9" fill="#151515"/>
<path d="M148.6,392 L151.7,387 L154.8,392 Z" fill="#fff" stroke="#151515" stroke-width="1.1"/>
<rect x="147.6" y="391.4" width="8.2" height="1.9" fill="#151515"/>
<path d="M175.6,392 L178.7,387 L181.8,392 Z" fill="#fff" stroke="#151515" stroke-width="1.1"/>
<rect x="174.6" y="391.4" width="8.2" height="1.9" fill="#151515"/>
<path d="M206.9,392 L210,387 L213.1,392 Z" fill="#fff" stroke="#151515" stroke-width="1.1"/>
<rect x="205.9" y="391.4" width="8.2" height="1.9" fill="#151515"/>
<rect x="31" y="314.5" width="6" height="6" fill="#fff" stroke="#151515" stroke-width="1.1"/>
<path d="M31,317.5 L37,317.5" stroke="#151515" stroke-width="0.9"/>
<rect x="53.5" y="359.5" width="6" height="6" fill="#fff" stroke="#151515" stroke-width="1.1"/>
<path d="M53.5,362.5 L59.5,362.5" stroke="#151515" stroke-width="0.9"/>
<rect x="58.9" y="362.5" width="6" height="6" fill="#fff" stroke="#151515" stroke-width="1.1"/>
<path d="M58.9,365.5 L64.9,365.5" stroke="#151515" stroke-width="0.9"/>
<rect x="66.2" y="367.5" width="6" height="6" fill="#fff" stroke="#151515" stroke-width="1.1"/>
<path d="M66.2,370.5 L72.2,370.5" stroke="#151515" stroke-width="0.9"/>
<rect x="73.5" y="376.5" width="6" height="6" fill="#fff" stroke="#151515" stroke-width="1.1"/>
<path d="M73.5,379.5 L79.5,379.5" stroke="#151515" stroke-width="0.9"/>
<rect x="91.6" y="387.5" width="6" height="6" fill="#fff" stroke="#151515" stroke-width="1.1"/>
<path d="M91.6,390.5 L97.6,390.5" stroke="#151515" stroke-width="0.9"/>
<rect x="106.3" y="401.5" width="6" height="6" fill="#fff" stroke="#151515" stroke-width="1.1"/>
<path d="M106.3,404.5 L112.3,404.5" stroke="#151515" stroke-width="0.9"/>
<rect x="115.1" y="405.5" width="6" height="6" fill="#fff" stroke="#151515" stroke-width="1.1"/>
<path d="M115.1,408.5 L121.1,408.5" stroke="#151515" stroke-width="0.9"/>
<rect x="122" y="411.5" width="6" height="6" fill="#fff" stroke="#151515" stroke-width="1.1"/>
<path d="M122,414.5 L128,414.5" stroke="#151515" stroke-width="0.9"/>
<rect x="143.2" y="417.5" width="6" height="6" fill="#fff" stroke="#151515" stroke-width="1.1"/>
<path d="M143.2,420.5 L149.2,420.5" stroke="#151515" stroke-width="0.9"/>
<rect x="149.3" y="417.5" width="6" height="6" fill="#fff" stroke="#151515" stroke-width="1.1"/>
<path d="M149.3,420.5 L155.3,420.5" stroke="#151515" stroke-width="0.9"/>
<path d="M304.5,312.5 L305.5,312.5 L305.5,314.5 L306.5,314.5 L306.5,317.5 L307.5,317.5 L307.5,320.5 L322.5,320.5 L322.5,324.5 L324.5,324.5 L324.5,328.5 L325.5,328.5 L325.5,337.5 L332.5,337.5 L332.5,342.5 L341.5,342.5 L341.5,351.5 L377.5,351.5 L377.5,357.5 L391.5,357.5 L391.5,373.5 L473.5,373.5" fill="none" stroke="#151515" stroke-width="1.45" stroke-linejoin="miter" stroke-linecap="square"/>
<path d="M304.5,311.5 L305.5,311.5 L305.5,315.5 L306.5,315.5 L306.5,319.5 L307.5,319.5 L307.5,326.5 L308.5,326.5 L308.5,333.5 L310.5,333.5 L310.5,339.5 L314.5,339.5 L314.5,345.5 L316.5,345.5 L316.5,352.5 L322.5,352.5 L322.5,358.5 L325.5,358.5 L325.5,364.5 L327.5,364.5 L327.5,368.5 L329.5,368.5 L329.5,376.5 L333.5,376.5 L333.5,380.5 L337.5,380.5 L337.5,386.5 L340.5,386.5 L340.5,389.5 L350.5,389.5 L350.5,394.5 L363.5,394.5 L363.5,401.5 L369.5,401.5 L369.5,404.5 L372.5,404.5 L372.5,407.5 L399.5,407.5 L399.5,410.5 L414.5,410.5 L414.5,415.5 L443.5,415.5 L443.5,423.5 L491.5,423.5" fill="none" stroke="#151515" stroke-width="1.45" stroke-linejoin="miter" stroke-linecap="square"/>
<path d="M312.5,321.6 L315.6,316.6 L318.7,321.6 Z" fill="#fff" stroke="#151515" stroke-width="1.1"/>
<rect x="311.5" y="321" width="8.2" height="1.9" fill="#151515"/>
<path d="M316.1,321.6 L319.2,316.6 L322.3,321.6 Z" fill="#fff" stroke="#151515" stroke-width="1.1"/>
<rect x="315.1" y="321" width="8.2" height="1.9" fill="#151515"/>
<path d="M324.7,337.7 L327.8,332.7 L330.9,337.7 Z" fill="#fff" stroke="#151515" stroke-width="1.1"/>
<rect x="323.7" y="337.1" width="8.2" height="1.9" fill="#151515"/>
<path d="M327.1,342.5 L330.2,337.5 L333.3,342.5 Z" fill="#fff" stroke="#151515" stroke-width="1.1"/>
<rect x="326.1" y="341.9" width="8.2" height="1.9" fill="#151515"/>
<path d="M332.4,342.5 L335.5,337.5 L338.6,342.5 Z" fill="#fff" stroke="#151515" stroke-width="1.1"/>
<rect x="331.4" y="341.9" width="8.2" height="1.9" fill="#151515"/>
<path d="M342.2,352.9 L345.3,347.9 L348.4,352.9 Z" fill="#fff" stroke="#151515" stroke-width="1.1"/>
<rect x="341.2" y="352.3" width="8.2" height="1.9" fill="#151515"/>
<path d="M345.9,352.9 L349,347.9 L352.1,352.9 Z" fill="#fff" stroke="#151515" stroke-width="1.1"/>
<rect x="344.9" y="352.3" width="8.2" height="1.9" fill="#151515"/>
<path d="M360.4,352.9 L363.5,347.9 L366.6,352.9 Z" fill="#fff" stroke="#151515" stroke-width="1.1"/>
<rect x="359.4" y="352.3" width="8.2" height="1.9" fill="#151515"/>
<path d="M373.9,352.9 L377,347.9 L380.1,352.9 Z" fill="#fff" stroke="#151515" stroke-width="1.1"/>
<rect x="372.9" y="352.3" width="8.2" height="1.9" fill="#151515"/>
<path d="M375,358.6 L378.1,353.6 L381.2,358.6 Z" fill="#fff" stroke="#151515" stroke-width="1.1"/>
<rect x="374" y="358" width="8.2" height="1.9" fill="#151515"/>
<path d="M381.6,358.6 L384.7,353.6 L387.8,358.6 Z" fill="#fff" stroke="#151515" stroke-width="1.1"/>
<rect x="380.6" y="358" width="8.2" height="1.9" fill="#151515"/>
<path d="M398.4,374.9 L401.5,369.9 L404.6,374.9 Z" fill="#fff" stroke="#151515" stroke-width="1.1"/>
<rect x="397.4" y="374.3" width="8.2" height="1.9" fill="#151515"/>
<path d="M404.1,374.9 L407.2,369.9 L410.3,374.9 Z" fill="#fff" stroke="#151515" stroke-width="1.1"/>
<rect x="403.1" y="374.3" width="8.2" height="1.9" fill="#151515"/>
<path d="M414,374.9 L417.1,369.9 L420.2,374.9 Z" fill="#fff" stroke="#151515" stroke-width="1.1"/>
<rect x="413" y="374.3" width="8.2" height="1.9" fill="#151515"/>
<path d="M418.4,374.9 L421.5,369.9 L424.6,374.9 Z" fill="#fff" stroke="#151515" stroke-width="1.1"/>
<rect x="417.4" y="374.3" width="8.2" height="1.9" fill="#151515"/>
<path d="M437.6,374.9 L440.7,369.9 L443.8,374.9 Z" fill="#fff" stroke="#151515" stroke-width="1.1"/>
<rect x="436.6" y="374.3" width="8.2" height="1.9" fill="#151515"/>
<path d="M447.2,374.9 L450.3,369.9 L453.4,374.9 Z" fill="#fff" stroke="#151515" stroke-width="1.1"/>
<rect x="446.2" y="374.3" width="8.2" height="1.9" fill="#151515"/>
<path d="M466.9,374.9 L470,369.9 L473.1,374.9 Z" fill="#fff" stroke="#151515" stroke-width="1.1"/>
<rect x="465.9" y="374.3" width="8.2" height="1.9" fill="#151515"/>
<rect x="330.1" y="373.5" width="6" height="6" fill="#fff" stroke="#151515" stroke-width="1.1"/>
<path d="M330.1,376.5 L336.1,376.5" stroke="#151515" stroke-width="0.9"/>
<rect x="332.8" y="377.5" width="6" height="6" fill="#fff" stroke="#151515" stroke-width="1.1"/>
<path d="M332.8,380.5 L338.8,380.5" stroke="#151515" stroke-width="0.9"/>
<rect x="339.7" y="386.5" width="6" height="6" fill="#fff" stroke="#151515" stroke-width="1.1"/>
<path d="M339.7,389.5 L345.7,389.5" stroke="#151515" stroke-width="0.9"/>
<rect x="353.5" y="391.5" width="6" height="6" fill="#fff" stroke="#151515" stroke-width="1.1"/>
<path d="M353.5,394.5 L359.5,394.5" stroke="#151515" stroke-width="0.9"/>
<rect x="363.1" y="398.5" width="6" height="6" fill="#fff" stroke="#151515" stroke-width="1.1"/>
<path d="M363.1,401.5 L369.1,401.5" stroke="#151515" stroke-width="0.9"/>
<rect x="372.3" y="404.5" width="6" height="6" fill="#fff" stroke="#151515" stroke-width="1.1"/>
<path d="M372.3,407.5 L378.3,407.5" stroke="#151515" stroke-width="0.9"/>
<rect x="375.3" y="404.5" width="6" height="6" fill="#fff" stroke="#151515" stroke-width="1.1"/>
<path d="M375.3,407.5 L381.3,407.5" stroke="#151515" stroke-width="0.9"/>
<rect x="378.3" y="404.5" width="6" height="6" fill="#fff" stroke="#151515" stroke-width="1.1"/>
<path d="M378.3,407.5 L384.3,407.5" stroke="#151515" stroke-width="0.9"/>
<rect x="381.3" y="404.5" width="6" height="6" fill="#fff" stroke="#151515" stroke-width="1.1"/>
<path d="M381.3,407.5 L387.3,407.5" stroke="#151515" stroke-width="0.9"/>
<rect x="385.3" y="404.5" width="6" height="6" fill="#fff" stroke="#151515" stroke-width="1.1"/>
<path d="M385.3,407.5 L391.3,407.5" stroke="#151515" stroke-width="0.9"/>
<rect x="388.3" y="404.5" width="6" height="6" fill="#fff" stroke="#151515" stroke-width="1.1"/>
<path d="M388.3,407.5 L394.3,407.5" stroke="#151515" stroke-width="0.9"/>
<rect x="391.3" y="404.5" width="6" height="6" fill="#fff" stroke="#151515" stroke-width="1.1"/>
<path d="M391.3,407.5 L397.3,407.5" stroke="#151515" stroke-width="0.9"/>
<rect x="408.4" y="407.5" width="6" height="6" fill="#fff" stroke="#151515" stroke-width="1.1"/>
<path d="M408.4,410.5 L414.4,410.5" stroke="#151515" stroke-width="0.9"/>
<rect x="414.1" y="412.5" width="6" height="6" fill="#fff" stroke="#151515" stroke-width="1.1"/>
<path d="M414.1,415.5 L420.1,415.5" stroke="#151515" stroke-width="0.9"/>
<rect x="443.2" y="420.5" width="6" height="6" fill="#fff" stroke="#151515" stroke-width="1.1"/>
<path d="M443.2,423.5 L449.2,423.5" stroke="#151515" stroke-width="0.9"/>
<rect x="485.6" y="420.5" width="6" height="6" fill="#fff" stroke="#151515" stroke-width="1.1"/>
<path d="M485.6,423.5 L491.6,423.5" stroke="#151515" stroke-width="0.9"/>
<rect x="310.1" y="333.4" width="6.6" height="6" fill="#fff" stroke="#151515" stroke-width="1.1"/>
<path d="M311.6,336.4 L314.4,336.4 L314.4,334.6" fill="none" stroke="#151515" stroke-width="0.9"/>
<rect x="316.45" y="346" width="6.6" height="6" fill="#fff" stroke="#151515" stroke-width="1.1"/>
<path d="M317.95,349 L320.75,349 L320.75,347.2" fill="none" stroke="#151515" stroke-width="0.9"/>
<path d="M39.5,534.5 L44.5,534.5 L44.5,536.5 L46.5,536.5 L46.5,540.5 L49.5,540.5 L49.5,546.5 L55.5,546.5 L55.5,548.5 L59.5,548.5 L59.5,551.5 L63.5,551.5 L63.5,556.5 L66.5,556.5 L66.5,560.5 L69.5,560.5 L69.5,563.5 L73.5,563.5 L73.5,567.5 L84.5,567.5 L84.5,579.5 L92.5,579.5 L92.5,589.5 L103.5,589.5 L103.5,598.5 L109.5,598.5 L109.5,601.5 L110.5,601.5 L110.5,605.5 L113.5,605.5 L113.5,612.5 L123.5,612.5 L123.5,617.5 L132.5,617.5 L132.5,619.5 L135.5,619.5 L135.5,623.5 L137.5,623.5 L137.5,629.5 L223.5,629.5" fill="none" stroke="#151515" stroke-width="1.45" stroke-linejoin="miter" stroke-linecap="square"/>
<path d="M39.5,534.5 L40.5,534.5 L40.5,541.5 L47.5,541.5 L47.5,557.5 L52.5,557.5 L52.5,564.5 L56.5,564.5 L56.5,572.5 L61.5,572.5 L61.5,597.5 L65.5,597.5 L65.5,605.5 L73.5,605.5 L73.5,612.5 L92.5,612.5 L92.5,624.5 L103.5,624.5 L103.5,636.5 L137.5,636.5" fill="none" stroke="#151515" stroke-width="1.45" stroke-linejoin="miter" stroke-linecap="square"/>
<path d="M43.3,537.5 L46.4,532.5 L49.5,537.5 Z" fill="#fff" stroke="#151515" stroke-width="1.1"/>
<rect x="42.3" y="536.9" width="8.2" height="1.9" fill="#151515"/>
<path d="M48.7,547.3 L51.8,542.3 L54.9,547.3 Z" fill="#fff" stroke="#151515" stroke-width="1.1"/>
<rect x="47.7" y="546.7" width="8.2" height="1.9" fill="#151515"/>
<path d="M58.3,552.5 L61.4,547.5 L64.5,552.5 Z" fill="#fff" stroke="#151515" stroke-width="1.1"/>
<rect x="57.3" y="551.9" width="8.2" height="1.9" fill="#151515"/>
<path d="M62.2,559.3 L65.3,554.3 L68.4,559.3 Z" fill="#fff" stroke="#151515" stroke-width="1.1"/>
<rect x="61.2" y="558.7" width="8.2" height="1.9" fill="#151515"/>
<path d="M64.8,562 L67.9,557 L71,562 Z" fill="#fff" stroke="#151515" stroke-width="1.1"/>
<rect x="63.8" y="561.4" width="8.2" height="1.9" fill="#151515"/>
<path d="M68.5,565.3 L71.6,560.3 L74.7,565.3 Z" fill="#fff" stroke="#151515" stroke-width="1.1"/>
<rect x="67.5" y="564.7" width="8.2" height="1.9" fill="#151515"/>
<path d="M77.1,568.6 L80.2,563.6 L83.3,568.6 Z" fill="#fff" stroke="#151515" stroke-width="1.1"/>
<rect x="76.1" y="568" width="8.2" height="1.9" fill="#151515"/>
<path d="M81.3,568.6 L84.4,563.6 L87.5,568.6 Z" fill="#fff" stroke="#151515" stroke-width="1.1"/>
<rect x="80.3" y="568" width="8.2" height="1.9" fill="#151515"/>
<path d="M100.7,597.9 L103.8,592.9 L106.9,597.9 Z" fill="#fff" stroke="#151515" stroke-width="1.1"/>
<rect x="99.7" y="597.3" width="8.2" height="1.9" fill="#151515"/>
<path d="M112.1,612.3 L115.2,607.3 L118.3,612.3 Z" fill="#fff" stroke="#151515" stroke-width="1.1"/>
<rect x="111.1" y="611.7" width="8.2" height="1.9" fill="#151515"/>
<path d="M115.9,612.3 L119,607.3 L122.1,612.3 Z" fill="#fff" stroke="#151515" stroke-width="1.1"/>
<rect x="114.9" y="611.7" width="8.2" height="1.9" fill="#151515"/>
<path d="M122.4,617.3 L125.5,612.3 L128.6,617.3 Z" fill="#fff" stroke="#151515" stroke-width="1.1"/>
<rect x="121.4" y="616.7" width="8.2" height="1.9" fill="#151515"/>
<path d="M125.1,617.3 L128.2,612.3 L131.3,617.3 Z" fill="#fff" stroke="#151515" stroke-width="1.1"/>
<rect x="124.1" y="616.7" width="8.2" height="1.9" fill="#151515"/>
<path d="M127.5,617.3 L130.6,612.3 L133.7,617.3 Z" fill="#fff" stroke="#151515" stroke-width="1.1"/>
<rect x="126.5" y="616.7" width="8.2" height="1.9" fill="#151515"/>
<path d="M139.7,630.2 L142.8,625.2 L145.9,630.2 Z" fill="#fff" stroke="#151515" stroke-width="1.1"/>
<rect x="138.7" y="629.6" width="8.2" height="1.9" fill="#151515"/>
<path d="M143.9,630.2 L147,625.2 L150.1,630.2 Z" fill="#fff" stroke="#151515" stroke-width="1.1"/>
<rect x="142.9" y="629.6" width="8.2" height="1.9" fill="#151515"/>
<path d="M150.8,630.2 L153.9,625.2 L157,630.2 Z" fill="#fff" stroke="#151515" stroke-width="1.1"/>
<rect x="149.8" y="629.6" width="8.2" height="1.9" fill="#151515"/>
<path d="M158.4,630.2 L161.5,625.2 L164.6,630.2 Z" fill="#fff" stroke="#151515" stroke-width="1.1"/>
<rect x="157.4" y="629.6" width="8.2" height="1.9" fill="#151515"/>
<path d="M185.4,630.2 L188.5,625.2 L191.6,630.2 Z" fill="#fff" stroke="#151515" stroke-width="1.1"/>
<rect x="184.4" y="629.6" width="8.2" height="1.9" fill="#151515"/>
<path d="M216.6,630.2 L219.7,625.2 L222.8,630.2 Z" fill="#fff" stroke="#151515" stroke-width="1.1"/>
<rect x="215.6" y="629.6" width="8.2" height="1.9" fill="#151515"/>
<rect x="40.5" y="538.5" width="6" height="6" fill="#fff" stroke="#151515" stroke-width="1.1"/>
<path d="M40.5,541.5 L46.5,541.5" stroke="#151515" stroke-width="0.9"/>
<rect x="75.8" y="609.5" width="6" height="6" fill="#fff" stroke="#151515" stroke-width="1.1"/>
<path d="M75.8,612.5 L81.8,612.5" stroke="#151515" stroke-width="0.9"/>
<rect x="82.7" y="609.5" width="6" height="6" fill="#fff" stroke="#151515" stroke-width="1.1"/>
<path d="M82.7,612.5 L88.7,612.5" stroke="#151515" stroke-width="0.9"/>
<rect x="109" y="633.5" width="6" height="6" fill="#fff" stroke="#151515" stroke-width="1.1"/>
<path d="M109,636.5 L115,636.5" stroke="#151515" stroke-width="0.9"/>
<rect x="131.2" y="633.5" width="6" height="6" fill="#fff" stroke="#151515" stroke-width="1.1"/>
<path d="M131.2,636.5 L137.2,636.5" stroke="#151515" stroke-width="0.9"/>
<path d="M309.5,533.5 L310.5,533.5 L310.5,536.5 L311.5,536.5 L311.5,538.5 L312.5,538.5 L312.5,540.5 L314.5,540.5 L314.5,541.5 L316.5,541.5 L316.5,543.5 L318.5,543.5 L318.5,545.5 L320.5,545.5 L320.5,549.5 L324.5,549.5 L324.5,552.5 L328.5,552.5 L328.5,561.5 L330.5,561.5 L330.5,563.5 L333.5,563.5 L333.5,567.5 L337.5,567.5 L337.5,572.5 L339.5,572.5 L339.5,575.5 L342.5,575.5 L342.5,584.5 L347.5,584.5 L347.5,589.5 L358.5,589.5 L358.5,593.5 L372.5,593.5 L372.5,596.5 L378.5,596.5 L378.5,599.5 L396.5,599.5 L396.5,606.5 L404.5,606.5 L404.5,610.5 L448.5,610.5 L448.5,618.5 L497.5,618.5" fill="none" stroke="#151515" stroke-width="1.45" stroke-linejoin="miter" stroke-linecap="square"/>
<path d="M312.5,540.5 L312.5,556.5 L313.5,556.5 L313.5,573.5 L320.5,573.5 L320.5,581.5 L324.5,581.5 L324.5,585.5 L327.5,585.5 L327.5,586.5 L329.5,586.5 L329.5,601.5 L332.5,601.5 L332.5,604.5 L334.5,604.5 L334.5,614.5 L338.5,614.5 L338.5,615.5 L340.5,615.5 L340.5,621.5 L362.5,621.5 L362.5,626.5 L364.5,626.5 L364.5,629.5 L367.5,629.5 L367.5,632.5 L369.5,632.5 L369.5,636.5 L373.5,636.5 L373.5,640.5 L375.5,640.5 L375.5,643.5 L419.5,643.5 L419.5,659.5" fill="none" stroke="#151515" stroke-width="1.45" stroke-linejoin="miter" stroke-linecap="square"/>
<path d="M316.7,551.2 L319.8,546.2 L322.9,551.2 Z" fill="#fff" stroke="#151515" stroke-width="1.1"/>
<rect x="315.7" y="550.6" width="8.2" height="1.9" fill="#151515"/>
<path d="M321.1,552.5 L324.2,547.5 L327.3,552.5 Z" fill="#fff" stroke="#151515" stroke-width="1.1"/>
<rect x="320.1" y="551.9" width="8.2" height="1.9" fill="#151515"/>
<path d="M330,568.8 L333.1,563.8 L336.2,568.8 Z" fill="#fff" stroke="#151515" stroke-width="1.1"/>
<rect x="329" y="568.2" width="8.2" height="1.9" fill="#151515"/>
<path d="M333.4,577.5 L336.5,572.5 L339.6,577.5 Z" fill="#fff" stroke="#151515" stroke-width="1.1"/>
<rect x="332.4" y="576.9" width="8.2" height="1.9" fill="#151515"/>
<path d="M336.5,577.5 L339.6,572.5 L342.7,577.5 Z" fill="#fff" stroke="#151515" stroke-width="1.1"/>
<rect x="335.5" y="576.9" width="8.2" height="1.9" fill="#151515"/>
<path d="M339.9,577.5 L343,572.5 L346.1,577.5 Z" fill="#fff" stroke="#151515" stroke-width="1.1"/>
<rect x="338.9" y="576.9" width="8.2" height="1.9" fill="#151515"/>
<path d="M346.4,590.8 L349.5,585.8 L352.6,590.8 Z" fill="#fff" stroke="#151515" stroke-width="1.1"/>
<rect x="345.4" y="590.2" width="8.2" height="1.9" fill="#151515"/>
<path d="M350.4,590.8 L353.5,585.8 L356.6,590.8 Z" fill="#fff" stroke="#151515" stroke-width="1.1"/>
<rect x="349.4" y="590.2" width="8.2" height="1.9" fill="#151515"/>
<path d="M365.9,594.5 L369,589.5 L372.1,594.5 Z" fill="#fff" stroke="#151515" stroke-width="1.1"/>
<rect x="364.9" y="593.9" width="8.2" height="1.9" fill="#151515"/>
<path d="M368.4,598 L371.5,593 L374.6,598 Z" fill="#fff" stroke="#151515" stroke-width="1.1"/>
<rect x="367.4" y="597.4" width="8.2" height="1.9" fill="#151515"/>
<path d="M378.3,597.5 L381.4,592.5 L384.5,597.5 Z" fill="#fff" stroke="#151515" stroke-width="1.1"/>
<rect x="377.3" y="596.9" width="8.2" height="1.9" fill="#151515"/>
<path d="M386.4,600 L389.5,595 L392.6,600 Z" fill="#fff" stroke="#151515" stroke-width="1.1"/>
<rect x="385.4" y="599.4" width="8.2" height="1.9" fill="#151515"/>
<path d="M390.4,600 L393.5,595 L396.6,600 Z" fill="#fff" stroke="#151515" stroke-width="1.1"/>
<rect x="389.4" y="599.4" width="8.2" height="1.9" fill="#151515"/>
<path d="M393.9,600 L397,595 L400.1,600 Z" fill="#fff" stroke="#151515" stroke-width="1.1"/>
<rect x="392.9" y="599.4" width="8.2" height="1.9" fill="#151515"/>
<path d="M403.5,611.5 L406.6,606.5 L409.7,611.5 Z" fill="#fff" stroke="#151515" stroke-width="1.1"/>
<rect x="402.5" y="610.9" width="8.2" height="1.9" fill="#151515"/>
<path d="M408.1,611.5 L411.2,606.5 L414.3,611.5 Z" fill="#fff" stroke="#151515" stroke-width="1.1"/>
<rect x="407.1" y="610.9" width="8.2" height="1.9" fill="#151515"/>
<path d="M414.4,611.5 L417.5,606.5 L420.6,611.5 Z" fill="#fff" stroke="#151515" stroke-width="1.1"/>
<rect x="413.4" y="610.9" width="8.2" height="1.9" fill="#151515"/>
<path d="M419.4,611.5 L422.5,606.5 L425.6,611.5 Z" fill="#fff" stroke="#151515" stroke-width="1.1"/>
<rect x="418.4" y="610.9" width="8.2" height="1.9" fill="#151515"/>
<path d="M423.1,611.5 L426.2,606.5 L429.3,611.5 Z" fill="#fff" stroke="#151515" stroke-width="1.1"/>
<rect x="422.1" y="610.9" width="8.2" height="1.9" fill="#151515"/>
<path d="M442.5,611.5 L445.6,606.5 L448.7,611.5 Z" fill="#fff" stroke="#151515" stroke-width="1.1"/>
<rect x="441.5" y="610.9" width="8.2" height="1.9" fill="#151515"/>
<path d="M446.9,619.8 L450,614.8 L453.1,619.8 Z" fill="#fff" stroke="#151515" stroke-width="1.1"/>
<rect x="445.9" y="619.2" width="8.2" height="1.9" fill="#151515"/>
<path d="M451.9,619.8 L455,614.8 L458.1,619.8 Z" fill="#fff" stroke="#151515" stroke-width="1.1"/>
<rect x="450.9" y="619.2" width="8.2" height="1.9" fill="#151515"/>
<path d="M470.7,619.8 L473.8,614.8 L476.9,619.8 Z" fill="#fff" stroke="#151515" stroke-width="1.1"/>
<rect x="469.7" y="619.2" width="8.2" height="1.9" fill="#151515"/>
<path d="M491.2,619.8 L494.3,614.8 L497.4,619.8 Z" fill="#fff" stroke="#151515" stroke-width="1.1"/>
<rect x="490.2" y="619.2" width="8.2" height="1.9" fill="#151515"/>
<circle cx="318.3" cy="573.5" r="3.15" fill="#fff" stroke="#151515" stroke-width="1.1"/>
<path d="M315.15,573.5 L321.45,573.5" stroke="#151515" stroke-width="0.9"/>
<circle cx="348.1" cy="621.5" r="3.15" fill="#fff" stroke="#151515" stroke-width="1.1"/>
<path d="M344.95,621.5 L351.25,621.5" stroke="#151515" stroke-width="0.9"/>
<circle cx="362.7" cy="621.5" r="3.15" fill="#fff" stroke="#151515" stroke-width="1.1"/>
<path d="M359.55,621.5 L365.85,621.5" stroke="#151515" stroke-width="0.9"/>
<circle cx="379.6" cy="643.5" r="3.15" fill="#fff" stroke="#151515" stroke-width="1.1"/>
<path d="M376.45,643.5 L382.75,643.5" stroke="#151515" stroke-width="0.9"/>
<circle cx="398" cy="643.5" r="3.15" fill="#fff" stroke="#151515" stroke-width="1.1"/>
<path d="M394.85,643.5 L401.15,643.5" stroke="#151515" stroke-width="0.9"/>
<text x="110.9" y="45" font-family='"Liberation Serif", serif' font-size="14" font-weight="bold" textLength="29.6" lengthAdjust="spacingAndGlyphs" fill="#151515" >DFS</text>
<text x="114.8" y="318" font-family='"Liberation Serif", serif' font-size="14" font-weight="bold" textLength="29.4" lengthAdjust="spacingAndGlyphs" fill="#151515" >DFS</text>
<text x="121.6" y="541.3" font-family='"Liberation Serif", serif' font-size="14" font-weight="bold" textLength="29.4" lengthAdjust="spacingAndGlyphs" fill="#151515" >DFS</text>
<text x="330.6" y="43.5" font-family='"Liberation Serif", serif' font-size="14.2" font-weight="bold" textLength="102.5" lengthAdjust="spacingAndGlyphs" fill="#151515" >Overall survival</text>
<text x="341.5" y="318.3" font-family='"Liberation Serif", serif' font-size="14.2" font-weight="bold" textLength="104" lengthAdjust="spacingAndGlyphs" fill="#151515" >Overall survival</text>
<text x="344" y="538.7" font-family='"Liberation Serif", serif' font-size="14.2" font-weight="bold" textLength="102.3" lengthAdjust="spacingAndGlyphs" fill="#151515" >Overall survival</text>
<text x="185.8" y="44.4" font-family='"Liberation Serif", serif' font-size="12.5" textLength="36.8" lengthAdjust="spacingAndGlyphs" fill="#151515" stroke="#151515" stroke-width="0.2"><tspan font-style="italic">P</tspan>=<tspan font-family='"Liberation Sans", sans-serif' font-size="11.3">.005</tspan></text>
<text x="450.6" y="42.2" font-family='"Liberation Serif", serif' font-size="12.8" textLength="45" lengthAdjust="spacingAndGlyphs" fill="#151515" stroke="#151515" stroke-width="0.2"><tspan font-style="italic">P</tspan>&lt;.0001</text>
<text x="194.8" y="316.9" font-family='"Liberation Serif", serif' font-size="12.8" textLength="32.2" lengthAdjust="spacingAndGlyphs" fill="#151515" stroke="#151515" stroke-width="0.2"><tspan font-style="italic">P</tspan>=.01</text>
<text x="458.4" y="317.3" font-family='"Liberation Serif", serif' font-size="12.8" textLength="43.6" lengthAdjust="spacingAndGlyphs" fill="#151515" stroke="#151515" stroke-width="0.2"><tspan font-style="italic">P</tspan>=.0006</text>
<text x="201.9" y="538.9" font-family='"Liberation Serif", serif' font-size="12.8" textLength="31" lengthAdjust="spacingAndGlyphs" fill="#151515" stroke="#151515" stroke-width="0.2"><tspan font-style="italic">P</tspan>=.01</text>
<text x="463.8" y="538.5" font-family='"Liberation Serif", serif' font-size="12.8" textLength="45.3" lengthAdjust="spacingAndGlyphs" fill="#151515" stroke="#151515" stroke-width="0.2"><tspan font-style="italic">P</tspan>&lt;.0001</text>
<text x="135.6" y="107.2" font-family='"Liberation Serif", serif' font-size="13" textLength="14.3" lengthAdjust="spacingAndGlyphs" stroke="#151515" stroke-width="0.2" fill="#151515" >[S]</text>
<text x="136.6" y="137.3" font-family='"Liberation Serif", serif' font-size="13.5" textLength="9.6" lengthAdjust="spacingAndGlyphs" stroke="#151515" stroke-width="0.2" fill="#151515" >[I]</text>
<text x="98.5" y="141" font-family='"Liberation Serif", serif' font-size="12.5" textLength="14.2" lengthAdjust="spacingAndGlyphs" stroke="#151515" stroke-width="0.2" fill="#151515" >[R]</text>
<text x="208" y="114.2" font-family='"Liberation Serif", serif' font-size="13.5" textLength="22.2" lengthAdjust="spacingAndGlyphs" stroke="#151515" stroke-width="0.2" fill="#151515" >36%</text>
<text x="158.2" y="149.8" font-family='"Liberation Serif", serif' font-size="13.5" textLength="24.3" lengthAdjust="spacingAndGlyphs" stroke="#151515" stroke-width="0.2" fill="#151515" >16%</text>
<text x="124.9" y="163.3" font-family='"Liberation Serif", serif' font-size="13.5" textLength="23.7" lengthAdjust="spacingAndGlyphs" stroke="#151515" stroke-width="0.2" fill="#151515" >11%</text>
<text x="80.4" y="229.4" font-family='"Liberation Serif", serif' font-size="12.6" font-style="italic" textLength="66.6" lengthAdjust="spacing" stroke="#151515" stroke-width="0.2" fill="#151515" >S v I : P=.05</text>
<text x="80.4" y="243.2" font-family='"Liberation Serif", serif' font-size="12.6" font-style="italic" textLength="80.2" lengthAdjust="spacing" stroke="#151515" stroke-width="0.2" fill="#151515" >S v R : P=.0009</text>
<text x="80.4" y="256.9" font-family='"Liberation Serif", serif' font-size="12.6" font-style="italic" textLength="67.6" lengthAdjust="spacing" stroke="#151515" stroke-width="0.2" fill="#151515" >I v R : P=.09</text>
<text x="401.6" y="84.2" font-family='"Liberation Serif", serif' font-size="13" textLength="13.3" lengthAdjust="spacingAndGlyphs" stroke="#151515" stroke-width="0.2" fill="#151515" >[S]</text>
<text x="462.6" y="86.4" font-family='"Liberation Serif", serif' font-size="13.5" textLength="23.4" lengthAdjust="spacingAndGlyphs" stroke="#151515" stroke-width="0.2" fill="#151515" >51%</text>
<text x="444.2" y="129" font-family='"Liberation Serif", serif' font-size="13.5" textLength="10.2" lengthAdjust="spacingAndGlyphs" stroke="#151515" stroke-width="0.2" fill="#151515" >[I]</text>
<text x="467.8" y="129" font-family='"Liberation Serif", serif' font-size="13.5" textLength="22.8" lengthAdjust="spacingAndGlyphs" stroke="#151515" stroke-width="0.2" fill="#151515" >20%</text>
<text x="371.3" y="144" font-family='"Liberation Serif", serif' font-size="12.5" textLength="14.3" lengthAdjust="spacingAndGlyphs" stroke="#151515" stroke-width="0.2" fill="#151515" >[R]</text>
<text x="415.4" y="161.9" font-family='"Liberation Serif", serif' font-size="13.5" textLength="16.6" lengthAdjust="spacingAndGlyphs" stroke="#151515" stroke-width="0.2" fill="#151515" >0%</text>
<text x="394.2" y="211.3" font-family='"Liberation Serif", serif' font-size="12.8" textLength="26" lengthAdjust="spacingAndGlyphs" stroke="#151515" stroke-width="0.2" fill="#151515" >Days</text>
<text x="363.5" y="234.4" font-family='"Liberation Serif", serif' font-size="12.6" font-style="italic" textLength="64.8" lengthAdjust="spacing" stroke="#151515" stroke-width="0.2" fill="#151515" >S v I : P=.02</text>
<text x="363.5" y="248.5" font-family='"Liberation Serif", serif' font-size="12.6" font-style="italic" textLength="84.3" lengthAdjust="spacing" stroke="#151515" stroke-width="0.2" fill="#151515" >S v R : P&lt;.0001</text>
<text x="363.5" y="262.7" font-family='"Liberation Serif", serif' font-size="12.6" font-style="italic" textLength="68.5" lengthAdjust="spacing" stroke="#151515" stroke-width="0.2" fill="#151515" >I v R : P=.01</text>
<text x="102.5" y="361.9" font-family='"Liberation Serif", serif' font-size="12.8" textLength="25.4" lengthAdjust="spacingAndGlyphs" stroke="#151515" stroke-width="0.2" fill="#151515" >JC1 -</text>
<text x="137.1" y="414.2" font-family='"Liberation Serif", serif' font-size="12.8" textLength="77.3" lengthAdjust="spacingAndGlyphs" stroke="#151515" stroke-width="0.2" fill="#151515" >JC1+ (=[R]+[I])</text>
<text x="201.6" y="386" font-family='"Liberation Serif", serif' font-size="13.5" textLength="22.8" lengthAdjust="spacingAndGlyphs" stroke="#151515" stroke-width="0.2" fill="#151515" >36%</text>
<text x="164.4" y="431.9" font-family='"Liberation Serif", serif' font-size="13.5" textLength="23.2" lengthAdjust="spacingAndGlyphs" stroke="#151515" stroke-width="0.2" fill="#151515" >12%</text>
<text x="114" y="482.2" font-family='"Liberation Serif", serif' font-size="12.8" textLength="25.8" lengthAdjust="spacingAndGlyphs" stroke="#151515" stroke-width="0.2" fill="#151515" >Days</text>
<text x="404" y="359.3" font-family='"Liberation Serif", serif' font-size="13.2" textLength="24.7" lengthAdjust="spacingAndGlyphs" stroke="#151515" stroke-width="0.2" fill="#151515" >JC1 -</text>
<text x="480.2" y="374.4" font-family='"Liberation Serif", serif' font-size="13.5" textLength="20.2" lengthAdjust="spacingAndGlyphs" stroke="#151515" stroke-width="0.2" fill="#151515" >51%</text>
<text x="400.2" y="404.3" font-family='"Liberation Serif", serif' font-size="12.8" textLength="77.6" lengthAdjust="spacingAndGlyphs" stroke="#151515" stroke-width="0.2" fill="#151515" >JC1+ (=[R]+[I])</text>
<text x="482.9" y="415.4" font-family='"Liberation Serif", serif' font-size="13.5" textLength="22.4" lengthAdjust="spacingAndGlyphs" stroke="#151515" stroke-width="0.2" fill="#151515" >11%</text>
<text x="394" y="482.7" font-family='"Liberation Serif", serif' font-size="12.8" textLength="26.2" lengthAdjust="spacingAndGlyphs" stroke="#151515" stroke-width="0.2" fill="#151515" >Days</text>
<text x="168.5" y="574" font-family='"Liberation Serif", serif' font-size="10.4" text-anchor="middle" textLength="86.6" lengthAdjust="spacingAndGlyphs" stroke="#151515" stroke-width="0.2" fill="#151515" >[I]+[S] patients (- in</text>
<text x="168.5" y="585.8" font-family='"Liberation Serif", serif' font-size="10.4" text-anchor="middle" textLength="81" lengthAdjust="spacingAndGlyphs" stroke="#151515" stroke-width="0.2" fill="#151515" >green fluorescence,</text>
<text x="168.5" y="597.9" font-family='"Liberation Serif", serif' font-size="10.4" text-anchor="middle" textLength="80.4" lengthAdjust="spacingAndGlyphs" stroke="#151515" stroke-width="0.2" fill="#151515" >similar to Rh123 -</text>
<text x="168.5" y="609.7" font-family='"Liberation Serif", serif' font-size="10.4" text-anchor="middle" textLength="40" lengthAdjust="spacingAndGlyphs" stroke="#151515" stroke-width="0.2" fill="#151515" >patients)</text>
<text x="207.2" y="621.5" font-family='"Liberation Serif", serif' font-size="13.5" textLength="21.6" lengthAdjust="spacingAndGlyphs" stroke="#151515" stroke-width="0.2" fill="#151515" >25%</text>
<text x="106" y="632.8" font-family='"Liberation Serif", serif' font-size="13.5" textLength="23.4" lengthAdjust="spacingAndGlyphs" stroke="#151515" stroke-width="0.2" fill="#151515" >11%</text>
<text x="140.1" y="655.2" font-family='"Liberation Serif", serif' font-size="10.4" text-anchor="middle" textLength="148.4" lengthAdjust="spacingAndGlyphs" stroke="#151515" stroke-width="0.2" fill="#151515" >[R] patients (+ green fluorescence,</text>
<text x="139.9" y="666.2" font-family='"Liberation Serif", serif' font-size="10.4" text-anchor="middle" textLength="125.8" lengthAdjust="spacingAndGlyphs" stroke="#151515" stroke-width="0.2" fill="#151515" >similar to Rh123 + patients)</text>
<text x="121.3" y="706.5" font-family='"Liberation Serif", serif' font-size="12.8" textLength="26.5" lengthAdjust="spacingAndGlyphs" stroke="#151515" stroke-width="0.2" fill="#151515" >Days</text>
<text x="431" y="562.8" font-family='"Liberation Serif", serif' font-size="10.4" text-anchor="middle" textLength="111.6" lengthAdjust="spacingAndGlyphs" stroke="#151515" stroke-width="0.2" fill="#151515" >[I]+[S] patients (- in green</text>
<text x="431" y="574.9" font-family='"Liberation Serif", serif' font-size="10.4" text-anchor="middle" textLength="103.2" lengthAdjust="spacingAndGlyphs" stroke="#151515" stroke-width="0.2" fill="#151515" >fluorescence, similar to</text>
<text x="431" y="586.4" font-family='"Liberation Serif", serif' font-size="10.4" text-anchor="middle" textLength="77.2" lengthAdjust="spacingAndGlyphs" stroke="#151515" stroke-width="0.2" fill="#151515" >Rh123 - patients)</text>
<text x="483.4" y="611.2" font-family='"Liberation Serif", serif' font-size="13.5" textLength="22.3" lengthAdjust="spacingAndGlyphs" stroke="#151515" stroke-width="0.2" fill="#151515" >32%</text>
<text x="397.3" y="660.8" font-family='"Liberation Serif", serif' font-size="13.5" textLength="16.3" lengthAdjust="spacingAndGlyphs" stroke="#151515" stroke-width="0.2" fill="#151515" >0%</text>
<text x="424" y="640.5" font-family='"Liberation Serif", serif' font-size="10.4" textLength="90.8" lengthAdjust="spacingAndGlyphs" stroke="#151515" stroke-width="0.2" fill="#151515" >[R] patients (+ green</text>
<text x="424" y="653" font-family='"Liberation Serif", serif' font-size="10.4" textLength="91.5" lengthAdjust="spacingAndGlyphs" stroke="#151515" stroke-width="0.2" fill="#151515" >fluorescence, similar</text>
<text x="424" y="664.5" font-family='"Liberation Serif", serif' font-size="10.4" textLength="90.6" lengthAdjust="spacingAndGlyphs" stroke="#151515" stroke-width="0.2" fill="#151515" >to Rh123 + patients)</text>
<text x="399.8" y="705.5" font-family='"Liberation Serif", serif' font-size="12.8" textLength="25.4" lengthAdjust="spacingAndGlyphs" stroke="#151515" stroke-width="0.2" fill="#151515" >Days</text>
</svg>
</body></html>
